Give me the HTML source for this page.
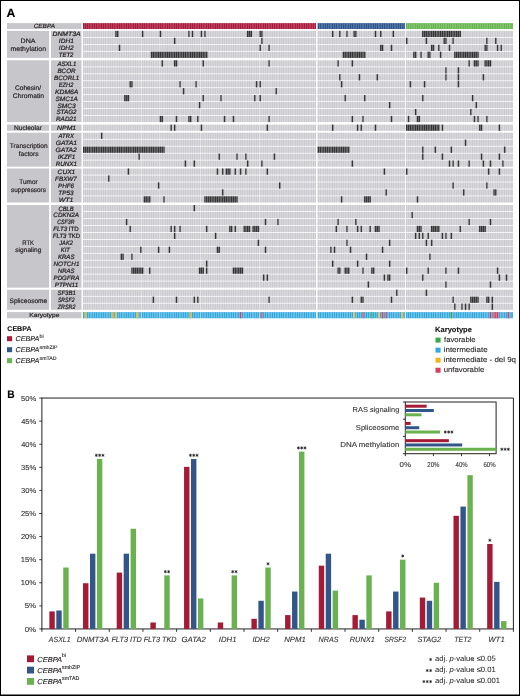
<!DOCTYPE html>
<html><head><meta charset="utf-8"><style>
html,body{margin:0;padding:0;background:#fff;}
svg{display:block;font-family:"Liberation Sans", sans-serif;will-change:transform;text-rendering:geometricPrecision;}
</style></head><body>
<svg width="520" height="696" viewBox="0 0 520 696">
<rect x="0.00" y="0.00" width="520.00" height="696.00" fill="#fff"/>
<text x="6.59" y="16.80" font-size="12" font-weight="bold" fill="#000" stroke="#000" stroke-width="0.1" textLength="8.84" lengthAdjust="spacingAndGlyphs">A</text>
<rect x="7.00" y="23.10" width="74.50" height="5.95" fill="#c7c6cb"/>
<text x="33.75" y="27.90" font-size="6.0" font-style="italic" fill="#231f20" stroke="#231f20" stroke-width="0.2" textLength="21.18" lengthAdjust="spacingAndGlyphs">CEBPA</text>
<rect x="83.00" y="23.10" width="233.00" height="5.95" fill="#ab1a3c"/>
<rect x="317.60" y="23.10" width="87.30" height="5.95" fill="#2f568f"/>
<rect x="405.90" y="23.10" width="107.00" height="5.95" fill="#68b450"/>
<rect x="7.00" y="30.85" width="42.10" height="27.05" fill="#c7c6cb"/>
<rect x="51.00" y="30.85" width="30.50" height="27.05" fill="#c7c6cb"/>
<text x="20.64" y="42.80" font-size="6.6" fill="#231f20" stroke="#231f20" stroke-width="0.18" textLength="14.87" lengthAdjust="spacingAndGlyphs">DNA</text>
<text x="10.55" y="50.60" font-size="6.6" fill="#231f20" stroke="#231f20" stroke-width="0.18" textLength="35.49" lengthAdjust="spacingAndGlyphs">methylation</text>
<rect x="83.00" y="30.85" width="233.00" height="6.20" fill="#cacacf"/>
<rect x="317.60" y="30.85" width="87.30" height="6.20" fill="#cacacf"/>
<rect x="405.90" y="30.85" width="107.00" height="6.20" fill="#cacacf"/>
<text x="52.50" y="36.35" font-size="6.3" font-style="italic" fill="#231f20" stroke="#231f20" stroke-width="0.22" textLength="28.06" lengthAdjust="spacingAndGlyphs">DNMT3A</text>
<rect x="83.00" y="37.80" width="233.00" height="6.20" fill="#cacacf"/>
<rect x="317.60" y="37.80" width="87.30" height="6.20" fill="#cacacf"/>
<rect x="405.90" y="37.80" width="107.00" height="6.20" fill="#cacacf"/>
<text x="58.84" y="43.30" font-size="6.3" font-style="italic" fill="#231f20" stroke="#231f20" stroke-width="0.22" textLength="15.05" lengthAdjust="spacingAndGlyphs">IDH1</text>
<rect x="83.00" y="44.75" width="233.00" height="6.20" fill="#cacacf"/>
<rect x="317.60" y="44.75" width="87.30" height="6.20" fill="#cacacf"/>
<rect x="405.90" y="44.75" width="107.00" height="6.20" fill="#cacacf"/>
<text x="58.84" y="50.25" font-size="6.3" font-style="italic" fill="#231f20" stroke="#231f20" stroke-width="0.22" textLength="14.78" lengthAdjust="spacingAndGlyphs">IDH2</text>
<rect x="83.00" y="51.70" width="233.00" height="6.20" fill="#cacacf"/>
<rect x="317.60" y="51.70" width="87.30" height="6.20" fill="#cacacf"/>
<rect x="405.90" y="51.70" width="107.00" height="6.20" fill="#cacacf"/>
<text x="58.76" y="57.20" font-size="6.3" font-style="italic" fill="#231f20" stroke="#231f20" stroke-width="0.22" textLength="14.63" lengthAdjust="spacingAndGlyphs">TET2</text>
<rect x="7.00" y="60.30" width="42.10" height="61.80" fill="#c7c6cb"/>
<rect x="51.00" y="60.30" width="30.50" height="61.80" fill="#c7c6cb"/>
<text x="14.97" y="89.70" font-size="6.6" fill="#231f20" stroke="#231f20" stroke-width="0.18">Cohesin/</text>
<text x="12.86" y="97.80" font-size="6.6" fill="#231f20" stroke="#231f20" stroke-width="0.18" textLength="31.20" lengthAdjust="spacingAndGlyphs">Chromatin</text>
<rect x="83.00" y="60.30" width="233.00" height="6.20" fill="#cacacf"/>
<rect x="317.60" y="60.30" width="87.30" height="6.20" fill="#cacacf"/>
<rect x="405.90" y="60.30" width="107.00" height="6.20" fill="#cacacf"/>
<text x="57.40" y="65.80" font-size="6.3" font-style="italic" fill="#231f20" stroke="#231f20" stroke-width="0.22" textLength="18.93" lengthAdjust="spacingAndGlyphs">ASXL1</text>
<rect x="83.00" y="67.25" width="233.00" height="6.20" fill="#cacacf"/>
<rect x="317.60" y="67.25" width="87.30" height="6.20" fill="#cacacf"/>
<rect x="405.90" y="67.25" width="107.00" height="6.20" fill="#cacacf"/>
<text x="57.41" y="72.75" font-size="6.3" font-style="italic" fill="#231f20" stroke="#231f20" stroke-width="0.22">BCOR</text>
<rect x="83.00" y="74.20" width="233.00" height="6.20" fill="#cacacf"/>
<rect x="317.60" y="74.20" width="87.30" height="6.20" fill="#cacacf"/>
<rect x="405.90" y="74.20" width="107.00" height="6.20" fill="#cacacf"/>
<text x="54.11" y="79.70" font-size="6.3" font-style="italic" fill="#231f20" stroke="#231f20" stroke-width="0.22">BCORL1</text>
<rect x="83.00" y="81.15" width="233.00" height="6.20" fill="#cacacf"/>
<rect x="317.60" y="81.15" width="87.30" height="6.20" fill="#cacacf"/>
<rect x="405.90" y="81.15" width="107.00" height="6.20" fill="#cacacf"/>
<text x="58.83" y="86.65" font-size="6.3" font-style="italic" fill="#231f20" stroke="#231f20" stroke-width="0.22" textLength="14.56" lengthAdjust="spacingAndGlyphs">EZH2</text>
<rect x="83.00" y="88.10" width="233.00" height="6.20" fill="#cacacf"/>
<rect x="317.60" y="88.10" width="87.30" height="6.20" fill="#cacacf"/>
<rect x="405.90" y="88.10" width="107.00" height="6.20" fill="#cacacf"/>
<text x="55.00" y="93.60" font-size="6.3" font-style="italic" fill="#231f20" stroke="#231f20" stroke-width="0.22" textLength="23.35" lengthAdjust="spacingAndGlyphs">KDM6A</text>
<rect x="83.00" y="95.05" width="233.00" height="6.20" fill="#cacacf"/>
<rect x="317.60" y="95.05" width="87.30" height="6.20" fill="#cacacf"/>
<rect x="405.90" y="95.05" width="107.00" height="6.20" fill="#cacacf"/>
<text x="55.51" y="100.55" font-size="6.3" font-style="italic" fill="#231f20" stroke="#231f20" stroke-width="0.22" textLength="22.32" lengthAdjust="spacingAndGlyphs">SMC1A</text>
<rect x="83.00" y="102.00" width="233.00" height="6.20" fill="#cacacf"/>
<rect x="317.60" y="102.00" width="87.30" height="6.20" fill="#cacacf"/>
<rect x="405.90" y="102.00" width="107.00" height="6.20" fill="#cacacf"/>
<text x="57.40" y="107.50" font-size="6.3" font-style="italic" fill="#231f20" stroke="#231f20" stroke-width="0.22" textLength="18.15" lengthAdjust="spacingAndGlyphs">SMC3</text>
<rect x="83.00" y="108.95" width="233.00" height="6.20" fill="#cacacf"/>
<rect x="317.60" y="108.95" width="87.30" height="6.20" fill="#cacacf"/>
<rect x="405.90" y="108.95" width="107.00" height="6.20" fill="#cacacf"/>
<text x="56.41" y="114.45" font-size="6.3" font-style="italic" fill="#231f20" stroke="#231f20" stroke-width="0.22">STAG2</text>
<rect x="83.00" y="115.90" width="233.00" height="6.20" fill="#cacacf"/>
<rect x="317.60" y="115.90" width="87.30" height="6.20" fill="#cacacf"/>
<rect x="405.90" y="115.90" width="107.00" height="6.20" fill="#cacacf"/>
<text x="56.01" y="121.40" font-size="6.3" font-style="italic" fill="#231f20" stroke="#231f20" stroke-width="0.22" textLength="20.63" lengthAdjust="spacingAndGlyphs">RAD21</text>
<rect x="7.00" y="124.60" width="42.10" height="6.20" fill="#c7c6cb"/>
<rect x="51.00" y="124.60" width="30.50" height="6.20" fill="#c7c6cb"/>
<text x="13.97" y="129.50" font-size="6.6" fill="#231f20" stroke="#231f20" stroke-width="0.18">Nucleolar</text>
<rect x="83.00" y="124.60" width="233.00" height="6.20" fill="#cacacf"/>
<rect x="317.60" y="124.60" width="87.30" height="6.20" fill="#cacacf"/>
<rect x="405.90" y="124.60" width="107.00" height="6.20" fill="#cacacf"/>
<text x="57.09" y="130.10" font-size="6.3" font-style="italic" fill="#231f20" stroke="#231f20" stroke-width="0.22" textLength="19.11" lengthAdjust="spacingAndGlyphs">NPM1</text>
<rect x="7.00" y="132.70" width="42.10" height="34.00" fill="#c7c6cb"/>
<rect x="51.00" y="132.70" width="30.50" height="34.00" fill="#c7c6cb"/>
<text x="9.77" y="148.40" font-size="6.6" fill="#231f20" stroke="#231f20" stroke-width="0.18">Transcription</text>
<text x="18.70" y="155.90" font-size="6.6" fill="#231f20" stroke="#231f20" stroke-width="0.18">factors</text>
<rect x="83.00" y="132.70" width="233.00" height="6.20" fill="#cacacf"/>
<rect x="317.60" y="132.70" width="87.30" height="6.20" fill="#cacacf"/>
<rect x="405.90" y="132.70" width="107.00" height="6.20" fill="#cacacf"/>
<text x="58.50" y="138.20" font-size="6.3" font-style="italic" fill="#231f20" stroke="#231f20" stroke-width="0.22" textLength="15.44" lengthAdjust="spacingAndGlyphs">ATRX</text>
<rect x="83.00" y="139.65" width="233.00" height="6.20" fill="#cacacf"/>
<rect x="317.60" y="139.65" width="87.30" height="6.20" fill="#cacacf"/>
<rect x="405.90" y="139.65" width="107.00" height="6.20" fill="#cacacf"/>
<text x="55.76" y="145.15" font-size="6.3" font-style="italic" fill="#231f20" stroke="#231f20" stroke-width="0.22" textLength="21.32" lengthAdjust="spacingAndGlyphs">GATA1</text>
<rect x="83.00" y="146.60" width="233.00" height="6.20" fill="#cacacf"/>
<rect x="317.60" y="146.60" width="87.30" height="6.20" fill="#cacacf"/>
<rect x="405.90" y="146.60" width="107.00" height="6.20" fill="#cacacf"/>
<text x="55.56" y="152.10" font-size="6.3" font-style="italic" fill="#231f20" stroke="#231f20" stroke-width="0.22" textLength="21.35" lengthAdjust="spacingAndGlyphs">GATA2</text>
<rect x="83.00" y="153.55" width="233.00" height="6.20" fill="#cacacf"/>
<rect x="317.60" y="153.55" width="87.30" height="6.20" fill="#cacacf"/>
<rect x="405.90" y="153.55" width="107.00" height="6.20" fill="#cacacf"/>
<text x="57.74" y="159.05" font-size="6.3" font-style="italic" fill="#231f20" stroke="#231f20" stroke-width="0.22" textLength="17.73" lengthAdjust="spacingAndGlyphs">IKZF1</text>
<rect x="83.00" y="160.50" width="233.00" height="6.20" fill="#cacacf"/>
<rect x="317.60" y="160.50" width="87.30" height="6.20" fill="#cacacf"/>
<rect x="405.90" y="160.50" width="107.00" height="6.20" fill="#cacacf"/>
<text x="55.71" y="166.00" font-size="6.3" font-style="italic" fill="#231f20" stroke="#231f20" stroke-width="0.22">RUNX1</text>
<rect x="7.00" y="168.50" width="42.10" height="34.00" fill="#c7c6cb"/>
<rect x="51.00" y="168.50" width="30.50" height="34.00" fill="#c7c6cb"/>
<text x="19.27" y="184.20" font-size="6.6" fill="#231f20" stroke="#231f20" stroke-width="0.18" textLength="18.34" lengthAdjust="spacingAndGlyphs">Tumor</text>
<text x="11.11" y="192.00" font-size="6.6" fill="#231f20" stroke="#231f20" stroke-width="0.18" textLength="34.83" lengthAdjust="spacingAndGlyphs">suppressors</text>
<rect x="83.00" y="168.50" width="233.00" height="6.20" fill="#cacacf"/>
<rect x="317.60" y="168.50" width="87.30" height="6.20" fill="#cacacf"/>
<rect x="405.90" y="168.50" width="107.00" height="6.20" fill="#cacacf"/>
<text x="57.64" y="174.00" font-size="6.3" font-style="italic" fill="#231f20" stroke="#231f20" stroke-width="0.22" textLength="17.64" lengthAdjust="spacingAndGlyphs">CUX1</text>
<rect x="83.00" y="175.45" width="233.00" height="6.20" fill="#cacacf"/>
<rect x="317.60" y="175.45" width="87.30" height="6.20" fill="#cacacf"/>
<rect x="405.90" y="175.45" width="107.00" height="6.20" fill="#cacacf"/>
<text x="55.11" y="180.95" font-size="6.3" font-style="italic" fill="#231f20" stroke="#231f20" stroke-width="0.22">FBXW7</text>
<rect x="83.00" y="182.40" width="233.00" height="6.20" fill="#cacacf"/>
<rect x="317.60" y="182.40" width="87.30" height="6.20" fill="#cacacf"/>
<rect x="405.90" y="182.40" width="107.00" height="6.20" fill="#cacacf"/>
<text x="58.01" y="187.90" font-size="6.3" font-style="italic" fill="#231f20" stroke="#231f20" stroke-width="0.22">PHF6</text>
<rect x="83.00" y="189.35" width="233.00" height="6.20" fill="#cacacf"/>
<rect x="317.60" y="189.35" width="87.30" height="6.20" fill="#cacacf"/>
<rect x="405.90" y="189.35" width="107.00" height="6.20" fill="#cacacf"/>
<text x="58.22" y="194.85" font-size="6.3" font-style="italic" fill="#231f20" stroke="#231f20" stroke-width="0.22" textLength="15.31" lengthAdjust="spacingAndGlyphs">TP53</text>
<rect x="83.00" y="196.30" width="233.00" height="6.20" fill="#cacacf"/>
<rect x="317.60" y="196.30" width="87.30" height="6.20" fill="#cacacf"/>
<rect x="405.90" y="196.30" width="107.00" height="6.20" fill="#cacacf"/>
<text x="58.81" y="201.80" font-size="6.3" font-style="italic" fill="#231f20" stroke="#231f20" stroke-width="0.22" textLength="14.69" lengthAdjust="spacingAndGlyphs">WT1</text>
<rect x="7.00" y="205.00" width="42.10" height="82.65" fill="#c7c6cb"/>
<rect x="51.00" y="205.00" width="30.50" height="82.65" fill="#c7c6cb"/>
<text x="22.33" y="245.00" font-size="6.6" fill="#231f20" stroke="#231f20" stroke-width="0.18" textLength="11.75" lengthAdjust="spacingAndGlyphs">RTK</text>
<text x="15.30" y="252.30" font-size="6.6" fill="#231f20" stroke="#231f20" stroke-width="0.18">signaling</text>
<rect x="83.00" y="205.00" width="233.00" height="6.20" fill="#cacacf"/>
<rect x="317.60" y="205.00" width="87.30" height="6.20" fill="#cacacf"/>
<rect x="405.90" y="205.00" width="107.00" height="6.20" fill="#cacacf"/>
<text x="58.48" y="210.50" font-size="6.3" font-style="italic" fill="#231f20" stroke="#231f20" stroke-width="0.22" textLength="15.31" lengthAdjust="spacingAndGlyphs">CBLB</text>
<rect x="83.00" y="211.95" width="233.00" height="6.20" fill="#cacacf"/>
<rect x="317.60" y="211.95" width="87.30" height="6.20" fill="#cacacf"/>
<rect x="405.90" y="211.95" width="107.00" height="6.20" fill="#cacacf"/>
<text x="53.35" y="217.45" font-size="6.3" font-style="italic" fill="#231f20" stroke="#231f20" stroke-width="0.22">CDKN2A</text>
<rect x="83.00" y="218.90" width="233.00" height="6.20" fill="#cacacf"/>
<rect x="317.60" y="218.90" width="87.30" height="6.20" fill="#cacacf"/>
<rect x="405.90" y="218.90" width="107.00" height="6.20" fill="#cacacf"/>
<text x="57.31" y="224.40" font-size="6.3" font-style="italic" fill="#231f20" stroke="#231f20" stroke-width="0.22" textLength="17.27" lengthAdjust="spacingAndGlyphs">CSF3R</text>
<rect x="83.00" y="225.85" width="233.00" height="6.20" fill="#cacacf"/>
<rect x="317.60" y="225.85" width="87.30" height="6.20" fill="#cacacf"/>
<rect x="405.90" y="225.85" width="107.00" height="6.20" fill="#cacacf"/>
<text x="53.21" y="231.35" font-size="6.3" font-style="italic" fill="#231f20" stroke="#231f20" stroke-width="0.22" textLength="25.59" lengthAdjust="spacingAndGlyphs">FLT3 <tspan font-style="normal">ITD</tspan></text>
<rect x="83.00" y="232.80" width="233.00" height="6.20" fill="#cacacf"/>
<rect x="317.60" y="232.80" width="87.30" height="6.20" fill="#cacacf"/>
<rect x="405.90" y="232.80" width="107.00" height="6.20" fill="#cacacf"/>
<text x="52.82" y="238.30" font-size="6.3" font-style="italic" fill="#231f20" stroke="#231f20" stroke-width="0.22" textLength="27.38" lengthAdjust="spacingAndGlyphs">FLT3 <tspan font-style="normal">TKD</tspan></text>
<rect x="83.00" y="239.75" width="233.00" height="6.20" fill="#cacacf"/>
<rect x="317.60" y="239.75" width="87.30" height="6.20" fill="#cacacf"/>
<rect x="405.90" y="239.75" width="107.00" height="6.20" fill="#cacacf"/>
<text x="59.30" y="245.25" font-size="6.3" font-style="italic" fill="#231f20" stroke="#231f20" stroke-width="0.22" textLength="13.49" lengthAdjust="spacingAndGlyphs">JAK2</text>
<rect x="83.00" y="246.70" width="233.00" height="6.20" fill="#cacacf"/>
<rect x="317.60" y="246.70" width="87.30" height="6.20" fill="#cacacf"/>
<rect x="405.90" y="246.70" width="107.00" height="6.20" fill="#cacacf"/>
<text x="60.72" y="252.20" font-size="6.3" font-style="italic" fill="#231f20" stroke="#231f20" stroke-width="0.22" textLength="9.13" lengthAdjust="spacingAndGlyphs">KIT</text>
<rect x="83.00" y="253.65" width="233.00" height="6.20" fill="#cacacf"/>
<rect x="317.60" y="253.65" width="87.30" height="6.20" fill="#cacacf"/>
<rect x="405.90" y="253.65" width="107.00" height="6.20" fill="#cacacf"/>
<text x="57.92" y="259.15" font-size="6.3" font-style="italic" fill="#231f20" stroke="#231f20" stroke-width="0.22" textLength="16.56" lengthAdjust="spacingAndGlyphs">KRAS</text>
<rect x="83.00" y="260.60" width="233.00" height="6.20" fill="#cacacf"/>
<rect x="317.60" y="260.60" width="87.30" height="6.20" fill="#cacacf"/>
<rect x="405.90" y="260.60" width="107.00" height="6.20" fill="#cacacf"/>
<text x="53.51" y="266.10" font-size="6.3" font-style="italic" fill="#231f20" stroke="#231f20" stroke-width="0.22">NOTCH1</text>
<rect x="83.00" y="267.55" width="233.00" height="6.20" fill="#cacacf"/>
<rect x="317.60" y="267.55" width="87.30" height="6.20" fill="#cacacf"/>
<rect x="405.90" y="267.55" width="107.00" height="6.20" fill="#cacacf"/>
<text x="57.92" y="273.05" font-size="6.3" font-style="italic" fill="#231f20" stroke="#231f20" stroke-width="0.22" textLength="16.56" lengthAdjust="spacingAndGlyphs">NRAS</text>
<rect x="83.00" y="274.50" width="233.00" height="6.20" fill="#cacacf"/>
<rect x="317.60" y="274.50" width="87.30" height="6.20" fill="#cacacf"/>
<rect x="405.90" y="274.50" width="107.00" height="6.20" fill="#cacacf"/>
<text x="53.51" y="280.00" font-size="6.3" font-style="italic" fill="#231f20" stroke="#231f20" stroke-width="0.22" textLength="25.81" lengthAdjust="spacingAndGlyphs">PDGFRA</text>
<rect x="83.00" y="281.45" width="233.00" height="6.20" fill="#cacacf"/>
<rect x="317.60" y="281.45" width="87.30" height="6.20" fill="#cacacf"/>
<rect x="405.90" y="281.45" width="107.00" height="6.20" fill="#cacacf"/>
<text x="54.81" y="286.95" font-size="6.3" font-style="italic" fill="#231f20" stroke="#231f20" stroke-width="0.22">PTPN11</text>
<rect x="7.00" y="289.70" width="42.10" height="20.10" fill="#c7c6cb"/>
<rect x="51.00" y="289.70" width="30.50" height="20.10" fill="#c7c6cb"/>
<text x="9.50" y="302.70" font-size="6.6" fill="#231f20" stroke="#231f20" stroke-width="0.18">Spliceosome</text>
<rect x="83.00" y="289.70" width="233.00" height="6.20" fill="#cacacf"/>
<rect x="317.60" y="289.70" width="87.30" height="6.20" fill="#cacacf"/>
<rect x="405.90" y="289.70" width="107.00" height="6.20" fill="#cacacf"/>
<text x="57.42" y="295.20" font-size="6.3" font-style="italic" fill="#231f20" stroke="#231f20" stroke-width="0.22" textLength="18.41" lengthAdjust="spacingAndGlyphs">SF3B1</text>
<rect x="83.00" y="296.65" width="233.00" height="6.20" fill="#cacacf"/>
<rect x="317.60" y="296.65" width="87.30" height="6.20" fill="#cacacf"/>
<rect x="405.90" y="296.65" width="107.00" height="6.20" fill="#cacacf"/>
<text x="57.95" y="302.15" font-size="6.3" font-style="italic" fill="#231f20" stroke="#231f20" stroke-width="0.22" textLength="16.55" lengthAdjust="spacingAndGlyphs">SRSF2</text>
<rect x="83.00" y="303.60" width="233.00" height="6.20" fill="#cacacf"/>
<rect x="317.60" y="303.60" width="87.30" height="6.20" fill="#cacacf"/>
<rect x="405.90" y="303.60" width="107.00" height="6.20" fill="#cacacf"/>
<text x="57.71" y="309.10" font-size="6.3" font-style="italic" fill="#231f20" stroke="#231f20" stroke-width="0.22" textLength="17.69" lengthAdjust="spacingAndGlyphs">ZRSR2</text>
<rect x="7.00" y="312.10" width="74.50" height="6.20" fill="#c7c6cb"/>
<text x="29.26" y="316.90" font-size="5.9" fill="#231f20" stroke="#231f20" stroke-width="0.18" textLength="30.15" lengthAdjust="spacingAndGlyphs">Karyotype</text>
<rect x="83.00" y="312.10" width="233.00" height="6.20" fill="#33a9df"/>
<rect x="317.60" y="312.10" width="87.30" height="6.20" fill="#33a9df"/>
<rect x="405.90" y="312.10" width="107.00" height="6.20" fill="#33a9df"/>
<rect x="84.78" y="312.10" width="1.78" height="6.20" fill="#f6b21c"/>
<rect x="111.49" y="312.10" width="1.78" height="6.20" fill="#f6b21c"/>
<rect x="115.05" y="312.10" width="1.78" height="6.20" fill="#f6b21c"/>
<rect x="136.41" y="312.10" width="1.78" height="6.20" fill="#f6b21c"/>
<rect x="189.83" y="312.10" width="1.78" height="6.20" fill="#f6b21c"/>
<rect x="353.21" y="312.10" width="1.78" height="6.20" fill="#f6b21c"/>
<rect x="378.14" y="312.10" width="1.78" height="6.20" fill="#f6b21c"/>
<rect x="401.28" y="312.10" width="1.78" height="6.20" fill="#f6b21c"/>
<rect x="239.68" y="312.10" width="1.78" height="6.20" fill="#d8415d"/>
<rect x="261.05" y="312.10" width="1.78" height="6.20" fill="#d8415d"/>
<rect x="362.11" y="312.10" width="1.78" height="6.20" fill="#d8415d"/>
<rect x="381.70" y="312.10" width="1.78" height="6.20" fill="#d8415d"/>
<rect x="385.26" y="312.10" width="1.78" height="6.20" fill="#d8415d"/>
<rect x="489.58" y="312.10" width="1.78" height="6.20" fill="#d8415d"/>
<rect x="493.14" y="312.10" width="5.34" height="6.20" fill="#d8415d"/>
<rect x="507.39" y="312.10" width="1.78" height="6.20" fill="#d8415d"/>
<rect x="371.02" y="312.10" width="1.78" height="6.20" fill="#3aa946"/>
<rect x="450.41" y="312.10" width="1.78" height="6.20" fill="#3aa946"/>
<rect x="141.10" y="30.00" width="0.60" height="289.00" fill="#ffffff" fill-opacity="0.55"/>
<rect x="159.60" y="30.00" width="0.60" height="289.00" fill="#ffffff" fill-opacity="0.55"/>
<rect x="200.10" y="30.00" width="0.60" height="289.00" fill="#ffffff" fill-opacity="0.55"/>
<rect x="259.00" y="30.00" width="0.60" height="289.00" fill="#ffffff" fill-opacity="0.55"/>
<rect x="115.05" y="30.85" width="3.56" height="6.20" fill="#343436"/>
<rect x="141.76" y="30.85" width="1.78" height="6.20" fill="#343436"/>
<rect x="159.56" y="30.85" width="1.78" height="6.20" fill="#343436"/>
<rect x="188.05" y="30.85" width="1.78" height="6.20" fill="#343436"/>
<rect x="191.61" y="30.85" width="1.78" height="6.20" fill="#343436"/>
<rect x="200.51" y="30.85" width="1.78" height="6.20" fill="#343436"/>
<rect x="204.07" y="30.85" width="1.78" height="6.20" fill="#343436"/>
<rect x="246.81" y="30.85" width="5.34" height="6.20" fill="#343436"/>
<rect x="259.27" y="30.85" width="3.56" height="6.20" fill="#343436"/>
<rect x="331.84" y="30.85" width="1.78" height="6.20" fill="#343436"/>
<rect x="338.97" y="30.85" width="1.78" height="6.20" fill="#343436"/>
<rect x="346.09" y="30.85" width="1.78" height="6.20" fill="#343436"/>
<rect x="353.21" y="30.85" width="3.56" height="6.20" fill="#343436"/>
<rect x="374.58" y="30.85" width="1.78" height="6.20" fill="#343436"/>
<rect x="379.92" y="30.85" width="1.78" height="6.20" fill="#343436"/>
<rect x="392.38" y="30.85" width="1.78" height="6.20" fill="#343436"/>
<rect x="421.92" y="30.85" width="39.17" height="6.20" fill="#343436"/>
<rect x="173.81" y="37.80" width="1.78" height="6.20" fill="#343436"/>
<rect x="261.05" y="37.80" width="1.78" height="6.20" fill="#343436"/>
<rect x="405.90" y="37.80" width="1.78" height="6.20" fill="#343436"/>
<rect x="425.49" y="37.80" width="1.78" height="6.20" fill="#343436"/>
<rect x="443.29" y="37.80" width="3.56" height="6.20" fill="#343436"/>
<rect x="452.19" y="37.80" width="1.78" height="6.20" fill="#343436"/>
<rect x="486.02" y="37.80" width="1.78" height="6.20" fill="#343436"/>
<rect x="494.92" y="37.80" width="1.78" height="6.20" fill="#343436"/>
<rect x="118.61" y="44.75" width="1.78" height="6.20" fill="#343436"/>
<rect x="259.27" y="44.75" width="1.78" height="6.20" fill="#343436"/>
<rect x="268.17" y="44.75" width="1.78" height="6.20" fill="#343436"/>
<rect x="379.92" y="44.75" width="3.56" height="6.20" fill="#343436"/>
<rect x="390.60" y="44.75" width="1.78" height="6.20" fill="#343436"/>
<rect x="430.83" y="44.75" width="3.56" height="6.20" fill="#343436"/>
<rect x="437.95" y="44.75" width="1.78" height="6.20" fill="#343436"/>
<rect x="448.63" y="44.75" width="1.78" height="6.20" fill="#343436"/>
<rect x="484.24" y="44.75" width="3.56" height="6.20" fill="#343436"/>
<rect x="496.71" y="44.75" width="1.78" height="6.20" fill="#343436"/>
<rect x="500.27" y="44.75" width="1.78" height="6.20" fill="#343436"/>
<rect x="150.66" y="51.70" width="56.98" height="6.20" fill="#343436"/>
<rect x="342.53" y="51.70" width="23.15" height="6.20" fill="#343436"/>
<rect x="413.02" y="51.70" width="3.56" height="6.20" fill="#343436"/>
<rect x="420.14" y="51.70" width="1.78" height="6.20" fill="#343436"/>
<rect x="427.27" y="51.70" width="3.56" height="6.20" fill="#343436"/>
<rect x="439.73" y="51.70" width="1.78" height="6.20" fill="#343436"/>
<rect x="453.97" y="51.70" width="24.93" height="6.20" fill="#343436"/>
<rect x="161.34" y="60.30" width="1.78" height="6.20" fill="#343436"/>
<rect x="173.81" y="60.30" width="3.56" height="6.20" fill="#343436"/>
<rect x="202.29" y="60.30" width="1.78" height="6.20" fill="#343436"/>
<rect x="268.17" y="60.30" width="1.78" height="6.20" fill="#343436"/>
<rect x="337.19" y="60.30" width="1.78" height="6.20" fill="#343436"/>
<rect x="351.43" y="60.30" width="1.78" height="6.20" fill="#343436"/>
<rect x="468.22" y="60.30" width="1.78" height="6.20" fill="#343436"/>
<rect x="473.56" y="60.30" width="5.34" height="6.20" fill="#343436"/>
<rect x="484.24" y="60.30" width="7.12" height="6.20" fill="#343436"/>
<rect x="445.07" y="67.25" width="1.78" height="6.20" fill="#343436"/>
<rect x="457.53" y="67.25" width="1.78" height="6.20" fill="#343436"/>
<rect x="338.97" y="74.20" width="1.78" height="6.20" fill="#343436"/>
<rect x="358.55" y="74.20" width="1.78" height="6.20" fill="#343436"/>
<rect x="376.36" y="74.20" width="1.78" height="6.20" fill="#343436"/>
<rect x="445.07" y="74.20" width="1.78" height="6.20" fill="#343436"/>
<rect x="457.53" y="74.20" width="1.78" height="6.20" fill="#343436"/>
<rect x="482.46" y="74.20" width="1.78" height="6.20" fill="#343436"/>
<rect x="129.29" y="81.15" width="3.56" height="6.20" fill="#343436"/>
<rect x="179.15" y="81.15" width="1.78" height="6.20" fill="#343436"/>
<rect x="195.17" y="81.15" width="1.78" height="6.20" fill="#343436"/>
<rect x="255.71" y="81.15" width="1.78" height="6.20" fill="#343436"/>
<rect x="259.27" y="81.15" width="1.78" height="6.20" fill="#343436"/>
<rect x="340.75" y="81.15" width="1.78" height="6.20" fill="#343436"/>
<rect x="409.46" y="81.15" width="1.78" height="6.20" fill="#343436"/>
<rect x="423.70" y="81.15" width="1.78" height="6.20" fill="#343436"/>
<rect x="457.53" y="81.15" width="1.78" height="6.20" fill="#343436"/>
<rect x="182.71" y="88.10" width="1.78" height="6.20" fill="#343436"/>
<rect x="275.29" y="88.10" width="1.78" height="6.20" fill="#343436"/>
<rect x="123.95" y="95.05" width="5.34" height="6.20" fill="#343436"/>
<rect x="202.29" y="95.05" width="1.78" height="6.20" fill="#343436"/>
<rect x="220.10" y="95.05" width="1.78" height="6.20" fill="#343436"/>
<rect x="253.93" y="95.05" width="1.78" height="6.20" fill="#343436"/>
<rect x="259.27" y="95.05" width="1.78" height="6.20" fill="#343436"/>
<rect x="344.31" y="95.05" width="1.78" height="6.20" fill="#343436"/>
<rect x="363.89" y="95.05" width="1.78" height="6.20" fill="#343436"/>
<rect x="421.92" y="95.05" width="1.78" height="6.20" fill="#343436"/>
<rect x="471.78" y="95.05" width="1.78" height="6.20" fill="#343436"/>
<rect x="198.73" y="102.00" width="1.78" height="6.20" fill="#343436"/>
<rect x="388.82" y="102.00" width="1.78" height="6.20" fill="#343436"/>
<rect x="475.34" y="102.00" width="1.78" height="6.20" fill="#343436"/>
<rect x="414.80" y="108.95" width="1.78" height="6.20" fill="#343436"/>
<rect x="470.00" y="108.95" width="1.78" height="6.20" fill="#343436"/>
<rect x="159.56" y="115.90" width="3.56" height="6.20" fill="#343436"/>
<rect x="175.59" y="115.90" width="1.78" height="6.20" fill="#343436"/>
<rect x="188.05" y="115.90" width="3.56" height="6.20" fill="#343436"/>
<rect x="196.95" y="115.90" width="1.78" height="6.20" fill="#343436"/>
<rect x="223.66" y="115.90" width="1.78" height="6.20" fill="#343436"/>
<rect x="232.56" y="115.90" width="1.78" height="6.20" fill="#343436"/>
<rect x="268.17" y="115.90" width="1.78" height="6.20" fill="#343436"/>
<rect x="351.43" y="115.90" width="1.78" height="6.20" fill="#343436"/>
<rect x="362.11" y="115.90" width="1.78" height="6.20" fill="#343436"/>
<rect x="390.60" y="115.90" width="1.78" height="6.20" fill="#343436"/>
<rect x="407.68" y="115.90" width="1.78" height="6.20" fill="#343436"/>
<rect x="416.58" y="115.90" width="3.56" height="6.20" fill="#343436"/>
<rect x="473.56" y="115.90" width="1.78" height="6.20" fill="#343436"/>
<rect x="477.12" y="115.90" width="1.78" height="6.20" fill="#343436"/>
<rect x="486.02" y="115.90" width="1.78" height="6.20" fill="#343436"/>
<rect x="170.24" y="124.60" width="1.78" height="6.20" fill="#343436"/>
<rect x="173.81" y="124.60" width="1.78" height="6.20" fill="#343436"/>
<rect x="200.51" y="124.60" width="1.78" height="6.20" fill="#343436"/>
<rect x="266.39" y="124.60" width="1.78" height="6.20" fill="#343436"/>
<rect x="331.84" y="124.60" width="1.78" height="6.20" fill="#343436"/>
<rect x="356.77" y="124.60" width="1.78" height="6.20" fill="#343436"/>
<rect x="360.33" y="124.60" width="1.78" height="6.20" fill="#343436"/>
<rect x="374.58" y="124.60" width="1.78" height="6.20" fill="#343436"/>
<rect x="405.90" y="124.60" width="33.83" height="6.20" fill="#343436"/>
<rect x="441.51" y="124.60" width="1.78" height="6.20" fill="#343436"/>
<rect x="478.90" y="124.60" width="3.56" height="6.20" fill="#343436"/>
<rect x="498.49" y="124.60" width="1.78" height="6.20" fill="#343436"/>
<rect x="100.81" y="132.70" width="1.78" height="6.20" fill="#343436"/>
<rect x="464.66" y="139.65" width="1.78" height="6.20" fill="#343436"/>
<rect x="83.00" y="146.60" width="81.90" height="6.20" fill="#343436"/>
<rect x="317.60" y="146.60" width="32.05" height="6.20" fill="#343436"/>
<rect x="421.92" y="146.60" width="1.78" height="6.20" fill="#343436"/>
<rect x="434.39" y="146.60" width="1.78" height="6.20" fill="#343436"/>
<rect x="450.41" y="146.60" width="1.78" height="6.20" fill="#343436"/>
<rect x="503.83" y="146.60" width="1.78" height="6.20" fill="#343436"/>
<rect x="138.20" y="153.55" width="1.78" height="6.20" fill="#343436"/>
<rect x="218.32" y="153.55" width="1.78" height="6.20" fill="#343436"/>
<rect x="236.12" y="153.55" width="1.78" height="6.20" fill="#343436"/>
<rect x="245.03" y="153.55" width="1.78" height="6.20" fill="#343436"/>
<rect x="273.51" y="153.55" width="1.78" height="6.20" fill="#343436"/>
<rect x="421.92" y="153.55" width="1.78" height="6.20" fill="#343436"/>
<rect x="441.51" y="153.55" width="1.78" height="6.20" fill="#343436"/>
<rect x="480.68" y="153.55" width="1.78" height="6.20" fill="#343436"/>
<rect x="498.49" y="153.55" width="1.78" height="6.20" fill="#343436"/>
<rect x="184.49" y="160.50" width="1.78" height="6.20" fill="#343436"/>
<rect x="193.39" y="160.50" width="1.78" height="6.20" fill="#343436"/>
<rect x="246.81" y="160.50" width="1.78" height="6.20" fill="#343436"/>
<rect x="261.05" y="160.50" width="1.78" height="6.20" fill="#343436"/>
<rect x="351.43" y="160.50" width="1.78" height="6.20" fill="#343436"/>
<rect x="448.63" y="160.50" width="1.78" height="6.20" fill="#343436"/>
<rect x="452.19" y="160.50" width="1.78" height="6.20" fill="#343436"/>
<rect x="457.53" y="160.50" width="1.78" height="6.20" fill="#343436"/>
<rect x="468.22" y="160.50" width="1.78" height="6.20" fill="#343436"/>
<rect x="482.46" y="160.50" width="1.78" height="6.20" fill="#343436"/>
<rect x="489.58" y="160.50" width="1.78" height="6.20" fill="#343436"/>
<rect x="502.05" y="160.50" width="1.78" height="6.20" fill="#343436"/>
<rect x="127.51" y="168.50" width="1.78" height="6.20" fill="#343436"/>
<rect x="216.54" y="168.50" width="1.78" height="6.20" fill="#343436"/>
<rect x="221.88" y="168.50" width="1.78" height="6.20" fill="#343436"/>
<rect x="225.44" y="168.50" width="5.34" height="6.20" fill="#343436"/>
<rect x="234.34" y="168.50" width="1.78" height="6.20" fill="#343436"/>
<rect x="239.68" y="168.50" width="1.78" height="6.20" fill="#343436"/>
<rect x="245.03" y="168.50" width="1.78" height="6.20" fill="#343436"/>
<rect x="266.39" y="168.50" width="1.78" height="6.20" fill="#343436"/>
<rect x="383.48" y="168.50" width="1.78" height="6.20" fill="#343436"/>
<rect x="405.90" y="168.50" width="1.78" height="6.20" fill="#343436"/>
<rect x="487.80" y="168.50" width="1.78" height="6.20" fill="#343436"/>
<rect x="498.49" y="168.50" width="1.78" height="6.20" fill="#343436"/>
<rect x="107.93" y="175.45" width="1.78" height="6.20" fill="#343436"/>
<rect x="157.78" y="182.40" width="1.78" height="6.20" fill="#343436"/>
<rect x="278.86" y="182.40" width="1.78" height="6.20" fill="#343436"/>
<rect x="452.19" y="182.40" width="1.78" height="6.20" fill="#343436"/>
<rect x="486.02" y="182.40" width="1.78" height="6.20" fill="#343436"/>
<rect x="221.88" y="189.35" width="1.78" height="6.20" fill="#343436"/>
<rect x="385.26" y="189.35" width="1.78" height="6.20" fill="#343436"/>
<rect x="462.88" y="189.35" width="1.78" height="6.20" fill="#343436"/>
<rect x="493.14" y="189.35" width="3.56" height="6.20" fill="#343436"/>
<rect x="143.54" y="196.30" width="7.12" height="6.20" fill="#343436"/>
<rect x="163.12" y="196.30" width="1.78" height="6.20" fill="#343436"/>
<rect x="204.07" y="196.30" width="33.83" height="6.20" fill="#343436"/>
<rect x="340.75" y="196.30" width="1.78" height="6.20" fill="#343436"/>
<rect x="363.89" y="196.30" width="7.12" height="6.20" fill="#343436"/>
<rect x="416.58" y="196.30" width="1.78" height="6.20" fill="#343436"/>
<rect x="193.39" y="205.00" width="1.78" height="6.20" fill="#343436"/>
<rect x="411.24" y="211.95" width="1.78" height="6.20" fill="#343436"/>
<rect x="125.73" y="218.90" width="1.78" height="6.20" fill="#343436"/>
<rect x="264.61" y="218.90" width="1.78" height="6.20" fill="#343436"/>
<rect x="277.07" y="218.90" width="1.78" height="6.20" fill="#343436"/>
<rect x="337.19" y="218.90" width="1.78" height="6.20" fill="#343436"/>
<rect x="354.99" y="218.90" width="1.78" height="6.20" fill="#343436"/>
<rect x="468.22" y="218.90" width="1.78" height="6.20" fill="#343436"/>
<rect x="489.58" y="218.90" width="1.78" height="6.20" fill="#343436"/>
<rect x="129.29" y="225.85" width="1.78" height="6.20" fill="#343436"/>
<rect x="170.24" y="225.85" width="1.78" height="6.20" fill="#343436"/>
<rect x="173.81" y="225.85" width="1.78" height="6.20" fill="#343436"/>
<rect x="179.15" y="225.85" width="1.78" height="6.20" fill="#343436"/>
<rect x="205.85" y="225.85" width="1.78" height="6.20" fill="#343436"/>
<rect x="229.00" y="225.85" width="3.56" height="6.20" fill="#343436"/>
<rect x="234.34" y="225.85" width="1.78" height="6.20" fill="#343436"/>
<rect x="243.25" y="225.85" width="7.12" height="6.20" fill="#343436"/>
<rect x="252.15" y="225.85" width="7.12" height="6.20" fill="#343436"/>
<rect x="335.41" y="225.85" width="1.78" height="6.20" fill="#343436"/>
<rect x="346.09" y="225.85" width="1.78" height="6.20" fill="#343436"/>
<rect x="356.77" y="225.85" width="1.78" height="6.20" fill="#343436"/>
<rect x="360.33" y="225.85" width="1.78" height="6.20" fill="#343436"/>
<rect x="369.23" y="225.85" width="1.78" height="6.20" fill="#343436"/>
<rect x="374.58" y="225.85" width="5.34" height="6.20" fill="#343436"/>
<rect x="416.58" y="225.85" width="5.34" height="6.20" fill="#343436"/>
<rect x="430.83" y="225.85" width="8.90" height="6.20" fill="#343436"/>
<rect x="459.31" y="225.85" width="1.78" height="6.20" fill="#343436"/>
<rect x="478.90" y="225.85" width="7.12" height="6.20" fill="#343436"/>
<rect x="173.81" y="232.80" width="1.78" height="6.20" fill="#343436"/>
<rect x="214.76" y="232.80" width="1.78" height="6.20" fill="#343436"/>
<rect x="414.80" y="232.80" width="1.78" height="6.20" fill="#343436"/>
<rect x="418.36" y="232.80" width="1.78" height="6.20" fill="#343436"/>
<rect x="421.92" y="232.80" width="1.78" height="6.20" fill="#343436"/>
<rect x="427.27" y="232.80" width="1.78" height="6.20" fill="#343436"/>
<rect x="441.51" y="232.80" width="1.78" height="6.20" fill="#343436"/>
<rect x="445.07" y="232.80" width="1.78" height="6.20" fill="#343436"/>
<rect x="450.41" y="232.80" width="1.78" height="6.20" fill="#343436"/>
<rect x="257.49" y="239.75" width="1.78" height="6.20" fill="#343436"/>
<rect x="346.09" y="239.75" width="1.78" height="6.20" fill="#343436"/>
<rect x="388.82" y="239.75" width="1.78" height="6.20" fill="#343436"/>
<rect x="425.49" y="239.75" width="1.78" height="6.20" fill="#343436"/>
<rect x="430.83" y="239.75" width="1.78" height="6.20" fill="#343436"/>
<rect x="139.98" y="246.70" width="1.78" height="6.20" fill="#343436"/>
<rect x="157.78" y="246.70" width="1.78" height="6.20" fill="#343436"/>
<rect x="168.46" y="246.70" width="1.78" height="6.20" fill="#343436"/>
<rect x="216.54" y="246.70" width="3.56" height="6.20" fill="#343436"/>
<rect x="264.61" y="246.70" width="1.78" height="6.20" fill="#343436"/>
<rect x="330.06" y="246.70" width="1.78" height="6.20" fill="#343436"/>
<rect x="333.62" y="246.70" width="1.78" height="6.20" fill="#343436"/>
<rect x="349.65" y="246.70" width="1.78" height="6.20" fill="#343436"/>
<rect x="381.70" y="246.70" width="1.78" height="6.20" fill="#343436"/>
<rect x="120.39" y="253.65" width="3.56" height="6.20" fill="#343436"/>
<rect x="131.07" y="253.65" width="1.78" height="6.20" fill="#343436"/>
<rect x="365.67" y="253.65" width="1.78" height="6.20" fill="#343436"/>
<rect x="429.05" y="253.65" width="1.78" height="6.20" fill="#343436"/>
<rect x="205.85" y="260.60" width="1.78" height="6.20" fill="#343436"/>
<rect x="331.84" y="260.60" width="1.78" height="6.20" fill="#343436"/>
<rect x="356.77" y="260.60" width="1.78" height="6.20" fill="#343436"/>
<rect x="388.82" y="260.60" width="1.78" height="6.20" fill="#343436"/>
<rect x="131.07" y="267.55" width="12.46" height="6.20" fill="#343436"/>
<rect x="148.88" y="267.55" width="1.78" height="6.20" fill="#343436"/>
<rect x="198.73" y="267.55" width="5.34" height="6.20" fill="#343436"/>
<rect x="205.85" y="267.55" width="1.78" height="6.20" fill="#343436"/>
<rect x="232.56" y="267.55" width="10.68" height="6.20" fill="#343436"/>
<rect x="337.19" y="267.55" width="3.56" height="6.20" fill="#343436"/>
<rect x="344.31" y="267.55" width="5.34" height="6.20" fill="#343436"/>
<rect x="362.11" y="267.55" width="1.78" height="6.20" fill="#343436"/>
<rect x="371.02" y="267.55" width="3.56" height="6.20" fill="#343436"/>
<rect x="405.90" y="267.55" width="1.78" height="6.20" fill="#343436"/>
<rect x="427.27" y="267.55" width="1.78" height="6.20" fill="#343436"/>
<rect x="445.07" y="267.55" width="1.78" height="6.20" fill="#343436"/>
<rect x="457.53" y="267.55" width="1.78" height="6.20" fill="#343436"/>
<rect x="496.71" y="267.55" width="1.78" height="6.20" fill="#343436"/>
<rect x="262.83" y="274.50" width="1.78" height="6.20" fill="#343436"/>
<rect x="266.39" y="274.50" width="1.78" height="6.20" fill="#343436"/>
<rect x="383.48" y="274.50" width="1.78" height="6.20" fill="#343436"/>
<rect x="387.04" y="274.50" width="3.56" height="6.20" fill="#343436"/>
<rect x="421.92" y="274.50" width="1.78" height="6.20" fill="#343436"/>
<rect x="498.49" y="274.50" width="1.78" height="6.20" fill="#343436"/>
<rect x="505.61" y="274.50" width="1.78" height="6.20" fill="#343436"/>
<rect x="367.45" y="281.45" width="1.78" height="6.20" fill="#343436"/>
<rect x="445.07" y="281.45" width="1.78" height="6.20" fill="#343436"/>
<rect x="489.58" y="281.45" width="1.78" height="6.20" fill="#343436"/>
<rect x="395.94" y="289.70" width="1.78" height="6.20" fill="#343436"/>
<rect x="425.49" y="289.70" width="1.78" height="6.20" fill="#343436"/>
<rect x="152.44" y="296.65" width="1.78" height="6.20" fill="#343436"/>
<rect x="175.59" y="296.65" width="1.78" height="6.20" fill="#343436"/>
<rect x="193.39" y="296.65" width="1.78" height="6.20" fill="#343436"/>
<rect x="196.95" y="296.65" width="1.78" height="6.20" fill="#343436"/>
<rect x="268.17" y="296.65" width="1.78" height="6.20" fill="#343436"/>
<rect x="351.43" y="296.65" width="1.78" height="6.20" fill="#343436"/>
<rect x="360.33" y="296.65" width="3.56" height="6.20" fill="#343436"/>
<rect x="390.60" y="296.65" width="1.78" height="6.20" fill="#343436"/>
<rect x="452.19" y="296.65" width="1.78" height="6.20" fill="#343436"/>
<rect x="470.00" y="296.65" width="8.90" height="6.20" fill="#343436"/>
<rect x="486.02" y="296.65" width="3.56" height="6.20" fill="#343436"/>
<rect x="491.36" y="296.65" width="1.78" height="6.20" fill="#343436"/>
<rect x="453.97" y="303.60" width="1.78" height="6.20" fill="#343436"/>
<rect x="461.10" y="303.60" width="1.78" height="6.20" fill="#343436"/>
<rect x="464.66" y="303.60" width="1.78" height="6.20" fill="#343436"/>
<rect x="468.22" y="303.60" width="1.78" height="6.20" fill="#343436"/>
<rect x="491.36" y="303.60" width="1.78" height="6.20" fill="#343436"/>
<rect x="84.62" y="23.00" width="0.32" height="6.20" fill="#ffffff" fill-opacity="0.55"/>
<rect x="84.62" y="30.00" width="0.32" height="289.00" fill="#ffffff" fill-opacity="0.85"/>
<rect x="86.40" y="23.00" width="0.32" height="6.20" fill="#ffffff" fill-opacity="0.55"/>
<rect x="86.40" y="30.00" width="0.32" height="289.00" fill="#ffffff" fill-opacity="0.85"/>
<rect x="88.18" y="23.00" width="0.32" height="6.20" fill="#ffffff" fill-opacity="0.55"/>
<rect x="88.18" y="30.00" width="0.32" height="289.00" fill="#ffffff" fill-opacity="0.85"/>
<rect x="89.96" y="23.00" width="0.32" height="6.20" fill="#ffffff" fill-opacity="0.55"/>
<rect x="89.96" y="30.00" width="0.32" height="289.00" fill="#ffffff" fill-opacity="0.85"/>
<rect x="91.74" y="23.00" width="0.32" height="6.20" fill="#ffffff" fill-opacity="0.55"/>
<rect x="91.74" y="30.00" width="0.32" height="289.00" fill="#ffffff" fill-opacity="0.85"/>
<rect x="93.52" y="23.00" width="0.32" height="6.20" fill="#ffffff" fill-opacity="0.55"/>
<rect x="93.52" y="30.00" width="0.32" height="289.00" fill="#ffffff" fill-opacity="0.85"/>
<rect x="95.30" y="23.00" width="0.32" height="6.20" fill="#ffffff" fill-opacity="0.55"/>
<rect x="95.30" y="30.00" width="0.32" height="289.00" fill="#ffffff" fill-opacity="0.85"/>
<rect x="97.08" y="23.00" width="0.32" height="6.20" fill="#ffffff" fill-opacity="0.55"/>
<rect x="97.08" y="30.00" width="0.32" height="289.00" fill="#ffffff" fill-opacity="0.85"/>
<rect x="98.86" y="23.00" width="0.32" height="6.20" fill="#ffffff" fill-opacity="0.55"/>
<rect x="98.86" y="30.00" width="0.32" height="289.00" fill="#ffffff" fill-opacity="0.85"/>
<rect x="100.65" y="23.00" width="0.32" height="6.20" fill="#ffffff" fill-opacity="0.55"/>
<rect x="100.65" y="30.00" width="0.32" height="289.00" fill="#ffffff" fill-opacity="0.85"/>
<rect x="102.43" y="23.00" width="0.32" height="6.20" fill="#ffffff" fill-opacity="0.55"/>
<rect x="102.43" y="30.00" width="0.32" height="289.00" fill="#ffffff" fill-opacity="0.85"/>
<rect x="104.21" y="23.00" width="0.32" height="6.20" fill="#ffffff" fill-opacity="0.55"/>
<rect x="104.21" y="30.00" width="0.32" height="289.00" fill="#ffffff" fill-opacity="0.85"/>
<rect x="105.99" y="23.00" width="0.32" height="6.20" fill="#ffffff" fill-opacity="0.55"/>
<rect x="105.99" y="30.00" width="0.32" height="289.00" fill="#ffffff" fill-opacity="0.85"/>
<rect x="107.77" y="23.00" width="0.32" height="6.20" fill="#ffffff" fill-opacity="0.55"/>
<rect x="107.77" y="30.00" width="0.32" height="289.00" fill="#ffffff" fill-opacity="0.85"/>
<rect x="109.55" y="23.00" width="0.32" height="6.20" fill="#ffffff" fill-opacity="0.55"/>
<rect x="109.55" y="30.00" width="0.32" height="289.00" fill="#ffffff" fill-opacity="0.85"/>
<rect x="111.33" y="23.00" width="0.32" height="6.20" fill="#ffffff" fill-opacity="0.55"/>
<rect x="111.33" y="30.00" width="0.32" height="289.00" fill="#ffffff" fill-opacity="0.85"/>
<rect x="113.11" y="23.00" width="0.32" height="6.20" fill="#ffffff" fill-opacity="0.55"/>
<rect x="113.11" y="30.00" width="0.32" height="289.00" fill="#ffffff" fill-opacity="0.85"/>
<rect x="114.89" y="23.00" width="0.32" height="6.20" fill="#ffffff" fill-opacity="0.55"/>
<rect x="114.89" y="30.00" width="0.32" height="289.00" fill="#ffffff" fill-opacity="0.85"/>
<rect x="116.67" y="23.00" width="0.32" height="6.20" fill="#ffffff" fill-opacity="0.55"/>
<rect x="116.67" y="30.00" width="0.32" height="289.00" fill="#ffffff" fill-opacity="0.85"/>
<rect x="118.45" y="23.00" width="0.32" height="6.20" fill="#ffffff" fill-opacity="0.55"/>
<rect x="118.45" y="30.00" width="0.32" height="289.00" fill="#ffffff" fill-opacity="0.85"/>
<rect x="120.23" y="23.00" width="0.32" height="6.20" fill="#ffffff" fill-opacity="0.55"/>
<rect x="120.23" y="30.00" width="0.32" height="289.00" fill="#ffffff" fill-opacity="0.85"/>
<rect x="122.01" y="23.00" width="0.32" height="6.20" fill="#ffffff" fill-opacity="0.55"/>
<rect x="122.01" y="30.00" width="0.32" height="289.00" fill="#ffffff" fill-opacity="0.85"/>
<rect x="123.79" y="23.00" width="0.32" height="6.20" fill="#ffffff" fill-opacity="0.55"/>
<rect x="123.79" y="30.00" width="0.32" height="289.00" fill="#ffffff" fill-opacity="0.85"/>
<rect x="125.57" y="23.00" width="0.32" height="6.20" fill="#ffffff" fill-opacity="0.55"/>
<rect x="125.57" y="30.00" width="0.32" height="289.00" fill="#ffffff" fill-opacity="0.85"/>
<rect x="127.35" y="23.00" width="0.32" height="6.20" fill="#ffffff" fill-opacity="0.55"/>
<rect x="127.35" y="30.00" width="0.32" height="289.00" fill="#ffffff" fill-opacity="0.85"/>
<rect x="129.13" y="23.00" width="0.32" height="6.20" fill="#ffffff" fill-opacity="0.55"/>
<rect x="129.13" y="30.00" width="0.32" height="289.00" fill="#ffffff" fill-opacity="0.85"/>
<rect x="130.91" y="23.00" width="0.32" height="6.20" fill="#ffffff" fill-opacity="0.55"/>
<rect x="130.91" y="30.00" width="0.32" height="289.00" fill="#ffffff" fill-opacity="0.85"/>
<rect x="132.69" y="23.00" width="0.32" height="6.20" fill="#ffffff" fill-opacity="0.55"/>
<rect x="132.69" y="30.00" width="0.32" height="289.00" fill="#ffffff" fill-opacity="0.85"/>
<rect x="134.47" y="23.00" width="0.32" height="6.20" fill="#ffffff" fill-opacity="0.55"/>
<rect x="134.47" y="30.00" width="0.32" height="289.00" fill="#ffffff" fill-opacity="0.85"/>
<rect x="136.25" y="23.00" width="0.32" height="6.20" fill="#ffffff" fill-opacity="0.55"/>
<rect x="136.25" y="30.00" width="0.32" height="289.00" fill="#ffffff" fill-opacity="0.85"/>
<rect x="138.04" y="23.00" width="0.32" height="6.20" fill="#ffffff" fill-opacity="0.55"/>
<rect x="138.04" y="30.00" width="0.32" height="289.00" fill="#ffffff" fill-opacity="0.85"/>
<rect x="139.82" y="23.00" width="0.32" height="6.20" fill="#ffffff" fill-opacity="0.55"/>
<rect x="139.82" y="30.00" width="0.32" height="289.00" fill="#ffffff" fill-opacity="0.85"/>
<rect x="141.60" y="23.00" width="0.32" height="6.20" fill="#ffffff" fill-opacity="0.55"/>
<rect x="141.60" y="30.00" width="0.32" height="289.00" fill="#ffffff" fill-opacity="0.85"/>
<rect x="143.38" y="23.00" width="0.32" height="6.20" fill="#ffffff" fill-opacity="0.55"/>
<rect x="143.38" y="30.00" width="0.32" height="289.00" fill="#ffffff" fill-opacity="0.85"/>
<rect x="145.16" y="23.00" width="0.32" height="6.20" fill="#ffffff" fill-opacity="0.55"/>
<rect x="145.16" y="30.00" width="0.32" height="289.00" fill="#ffffff" fill-opacity="0.85"/>
<rect x="146.94" y="23.00" width="0.32" height="6.20" fill="#ffffff" fill-opacity="0.55"/>
<rect x="146.94" y="30.00" width="0.32" height="289.00" fill="#ffffff" fill-opacity="0.85"/>
<rect x="148.72" y="23.00" width="0.32" height="6.20" fill="#ffffff" fill-opacity="0.55"/>
<rect x="148.72" y="30.00" width="0.32" height="289.00" fill="#ffffff" fill-opacity="0.85"/>
<rect x="150.50" y="23.00" width="0.32" height="6.20" fill="#ffffff" fill-opacity="0.55"/>
<rect x="150.50" y="30.00" width="0.32" height="289.00" fill="#ffffff" fill-opacity="0.85"/>
<rect x="152.28" y="23.00" width="0.32" height="6.20" fill="#ffffff" fill-opacity="0.55"/>
<rect x="152.28" y="30.00" width="0.32" height="289.00" fill="#ffffff" fill-opacity="0.85"/>
<rect x="154.06" y="23.00" width="0.32" height="6.20" fill="#ffffff" fill-opacity="0.55"/>
<rect x="154.06" y="30.00" width="0.32" height="289.00" fill="#ffffff" fill-opacity="0.85"/>
<rect x="155.84" y="23.00" width="0.32" height="6.20" fill="#ffffff" fill-opacity="0.55"/>
<rect x="155.84" y="30.00" width="0.32" height="289.00" fill="#ffffff" fill-opacity="0.85"/>
<rect x="157.62" y="23.00" width="0.32" height="6.20" fill="#ffffff" fill-opacity="0.55"/>
<rect x="157.62" y="30.00" width="0.32" height="289.00" fill="#ffffff" fill-opacity="0.85"/>
<rect x="159.40" y="23.00" width="0.32" height="6.20" fill="#ffffff" fill-opacity="0.55"/>
<rect x="159.40" y="30.00" width="0.32" height="289.00" fill="#ffffff" fill-opacity="0.85"/>
<rect x="161.18" y="23.00" width="0.32" height="6.20" fill="#ffffff" fill-opacity="0.55"/>
<rect x="161.18" y="30.00" width="0.32" height="289.00" fill="#ffffff" fill-opacity="0.85"/>
<rect x="162.96" y="23.00" width="0.32" height="6.20" fill="#ffffff" fill-opacity="0.55"/>
<rect x="162.96" y="30.00" width="0.32" height="289.00" fill="#ffffff" fill-opacity="0.85"/>
<rect x="164.74" y="23.00" width="0.32" height="6.20" fill="#ffffff" fill-opacity="0.55"/>
<rect x="164.74" y="30.00" width="0.32" height="289.00" fill="#ffffff" fill-opacity="0.85"/>
<rect x="166.52" y="23.00" width="0.32" height="6.20" fill="#ffffff" fill-opacity="0.55"/>
<rect x="166.52" y="30.00" width="0.32" height="289.00" fill="#ffffff" fill-opacity="0.85"/>
<rect x="168.30" y="23.00" width="0.32" height="6.20" fill="#ffffff" fill-opacity="0.55"/>
<rect x="168.30" y="30.00" width="0.32" height="289.00" fill="#ffffff" fill-opacity="0.85"/>
<rect x="170.08" y="23.00" width="0.32" height="6.20" fill="#ffffff" fill-opacity="0.55"/>
<rect x="170.08" y="30.00" width="0.32" height="289.00" fill="#ffffff" fill-opacity="0.85"/>
<rect x="171.87" y="23.00" width="0.32" height="6.20" fill="#ffffff" fill-opacity="0.55"/>
<rect x="171.87" y="30.00" width="0.32" height="289.00" fill="#ffffff" fill-opacity="0.85"/>
<rect x="173.65" y="23.00" width="0.32" height="6.20" fill="#ffffff" fill-opacity="0.55"/>
<rect x="173.65" y="30.00" width="0.32" height="289.00" fill="#ffffff" fill-opacity="0.85"/>
<rect x="175.43" y="23.00" width="0.32" height="6.20" fill="#ffffff" fill-opacity="0.55"/>
<rect x="175.43" y="30.00" width="0.32" height="289.00" fill="#ffffff" fill-opacity="0.85"/>
<rect x="177.21" y="23.00" width="0.32" height="6.20" fill="#ffffff" fill-opacity="0.55"/>
<rect x="177.21" y="30.00" width="0.32" height="289.00" fill="#ffffff" fill-opacity="0.85"/>
<rect x="178.99" y="23.00" width="0.32" height="6.20" fill="#ffffff" fill-opacity="0.55"/>
<rect x="178.99" y="30.00" width="0.32" height="289.00" fill="#ffffff" fill-opacity="0.85"/>
<rect x="180.77" y="23.00" width="0.32" height="6.20" fill="#ffffff" fill-opacity="0.55"/>
<rect x="180.77" y="30.00" width="0.32" height="289.00" fill="#ffffff" fill-opacity="0.85"/>
<rect x="182.55" y="23.00" width="0.32" height="6.20" fill="#ffffff" fill-opacity="0.55"/>
<rect x="182.55" y="30.00" width="0.32" height="289.00" fill="#ffffff" fill-opacity="0.85"/>
<rect x="184.33" y="23.00" width="0.32" height="6.20" fill="#ffffff" fill-opacity="0.55"/>
<rect x="184.33" y="30.00" width="0.32" height="289.00" fill="#ffffff" fill-opacity="0.85"/>
<rect x="186.11" y="23.00" width="0.32" height="6.20" fill="#ffffff" fill-opacity="0.55"/>
<rect x="186.11" y="30.00" width="0.32" height="289.00" fill="#ffffff" fill-opacity="0.85"/>
<rect x="187.89" y="23.00" width="0.32" height="6.20" fill="#ffffff" fill-opacity="0.55"/>
<rect x="187.89" y="30.00" width="0.32" height="289.00" fill="#ffffff" fill-opacity="0.85"/>
<rect x="189.67" y="23.00" width="0.32" height="6.20" fill="#ffffff" fill-opacity="0.55"/>
<rect x="189.67" y="30.00" width="0.32" height="289.00" fill="#ffffff" fill-opacity="0.85"/>
<rect x="191.45" y="23.00" width="0.32" height="6.20" fill="#ffffff" fill-opacity="0.55"/>
<rect x="191.45" y="30.00" width="0.32" height="289.00" fill="#ffffff" fill-opacity="0.85"/>
<rect x="193.23" y="23.00" width="0.32" height="6.20" fill="#ffffff" fill-opacity="0.55"/>
<rect x="193.23" y="30.00" width="0.32" height="289.00" fill="#ffffff" fill-opacity="0.85"/>
<rect x="195.01" y="23.00" width="0.32" height="6.20" fill="#ffffff" fill-opacity="0.55"/>
<rect x="195.01" y="30.00" width="0.32" height="289.00" fill="#ffffff" fill-opacity="0.85"/>
<rect x="196.79" y="23.00" width="0.32" height="6.20" fill="#ffffff" fill-opacity="0.55"/>
<rect x="196.79" y="30.00" width="0.32" height="289.00" fill="#ffffff" fill-opacity="0.85"/>
<rect x="198.57" y="23.00" width="0.32" height="6.20" fill="#ffffff" fill-opacity="0.55"/>
<rect x="198.57" y="30.00" width="0.32" height="289.00" fill="#ffffff" fill-opacity="0.85"/>
<rect x="200.35" y="23.00" width="0.32" height="6.20" fill="#ffffff" fill-opacity="0.55"/>
<rect x="200.35" y="30.00" width="0.32" height="289.00" fill="#ffffff" fill-opacity="0.85"/>
<rect x="202.13" y="23.00" width="0.32" height="6.20" fill="#ffffff" fill-opacity="0.55"/>
<rect x="202.13" y="30.00" width="0.32" height="289.00" fill="#ffffff" fill-opacity="0.85"/>
<rect x="203.91" y="23.00" width="0.32" height="6.20" fill="#ffffff" fill-opacity="0.55"/>
<rect x="203.91" y="30.00" width="0.32" height="289.00" fill="#ffffff" fill-opacity="0.85"/>
<rect x="205.69" y="23.00" width="0.32" height="6.20" fill="#ffffff" fill-opacity="0.55"/>
<rect x="205.69" y="30.00" width="0.32" height="289.00" fill="#ffffff" fill-opacity="0.85"/>
<rect x="207.47" y="23.00" width="0.32" height="6.20" fill="#ffffff" fill-opacity="0.55"/>
<rect x="207.47" y="30.00" width="0.32" height="289.00" fill="#ffffff" fill-opacity="0.85"/>
<rect x="209.26" y="23.00" width="0.32" height="6.20" fill="#ffffff" fill-opacity="0.55"/>
<rect x="209.26" y="30.00" width="0.32" height="289.00" fill="#ffffff" fill-opacity="0.85"/>
<rect x="211.04" y="23.00" width="0.32" height="6.20" fill="#ffffff" fill-opacity="0.55"/>
<rect x="211.04" y="30.00" width="0.32" height="289.00" fill="#ffffff" fill-opacity="0.85"/>
<rect x="212.82" y="23.00" width="0.32" height="6.20" fill="#ffffff" fill-opacity="0.55"/>
<rect x="212.82" y="30.00" width="0.32" height="289.00" fill="#ffffff" fill-opacity="0.85"/>
<rect x="214.60" y="23.00" width="0.32" height="6.20" fill="#ffffff" fill-opacity="0.55"/>
<rect x="214.60" y="30.00" width="0.32" height="289.00" fill="#ffffff" fill-opacity="0.85"/>
<rect x="216.38" y="23.00" width="0.32" height="6.20" fill="#ffffff" fill-opacity="0.55"/>
<rect x="216.38" y="30.00" width="0.32" height="289.00" fill="#ffffff" fill-opacity="0.85"/>
<rect x="218.16" y="23.00" width="0.32" height="6.20" fill="#ffffff" fill-opacity="0.55"/>
<rect x="218.16" y="30.00" width="0.32" height="289.00" fill="#ffffff" fill-opacity="0.85"/>
<rect x="219.94" y="23.00" width="0.32" height="6.20" fill="#ffffff" fill-opacity="0.55"/>
<rect x="219.94" y="30.00" width="0.32" height="289.00" fill="#ffffff" fill-opacity="0.85"/>
<rect x="221.72" y="23.00" width="0.32" height="6.20" fill="#ffffff" fill-opacity="0.55"/>
<rect x="221.72" y="30.00" width="0.32" height="289.00" fill="#ffffff" fill-opacity="0.85"/>
<rect x="223.50" y="23.00" width="0.32" height="6.20" fill="#ffffff" fill-opacity="0.55"/>
<rect x="223.50" y="30.00" width="0.32" height="289.00" fill="#ffffff" fill-opacity="0.85"/>
<rect x="225.28" y="23.00" width="0.32" height="6.20" fill="#ffffff" fill-opacity="0.55"/>
<rect x="225.28" y="30.00" width="0.32" height="289.00" fill="#ffffff" fill-opacity="0.85"/>
<rect x="227.06" y="23.00" width="0.32" height="6.20" fill="#ffffff" fill-opacity="0.55"/>
<rect x="227.06" y="30.00" width="0.32" height="289.00" fill="#ffffff" fill-opacity="0.85"/>
<rect x="228.84" y="23.00" width="0.32" height="6.20" fill="#ffffff" fill-opacity="0.55"/>
<rect x="228.84" y="30.00" width="0.32" height="289.00" fill="#ffffff" fill-opacity="0.85"/>
<rect x="230.62" y="23.00" width="0.32" height="6.20" fill="#ffffff" fill-opacity="0.55"/>
<rect x="230.62" y="30.00" width="0.32" height="289.00" fill="#ffffff" fill-opacity="0.85"/>
<rect x="232.40" y="23.00" width="0.32" height="6.20" fill="#ffffff" fill-opacity="0.55"/>
<rect x="232.40" y="30.00" width="0.32" height="289.00" fill="#ffffff" fill-opacity="0.85"/>
<rect x="234.18" y="23.00" width="0.32" height="6.20" fill="#ffffff" fill-opacity="0.55"/>
<rect x="234.18" y="30.00" width="0.32" height="289.00" fill="#ffffff" fill-opacity="0.85"/>
<rect x="235.96" y="23.00" width="0.32" height="6.20" fill="#ffffff" fill-opacity="0.55"/>
<rect x="235.96" y="30.00" width="0.32" height="289.00" fill="#ffffff" fill-opacity="0.85"/>
<rect x="237.74" y="23.00" width="0.32" height="6.20" fill="#ffffff" fill-opacity="0.55"/>
<rect x="237.74" y="30.00" width="0.32" height="289.00" fill="#ffffff" fill-opacity="0.85"/>
<rect x="239.52" y="23.00" width="0.32" height="6.20" fill="#ffffff" fill-opacity="0.55"/>
<rect x="239.52" y="30.00" width="0.32" height="289.00" fill="#ffffff" fill-opacity="0.85"/>
<rect x="241.30" y="23.00" width="0.32" height="6.20" fill="#ffffff" fill-opacity="0.55"/>
<rect x="241.30" y="30.00" width="0.32" height="289.00" fill="#ffffff" fill-opacity="0.85"/>
<rect x="243.09" y="23.00" width="0.32" height="6.20" fill="#ffffff" fill-opacity="0.55"/>
<rect x="243.09" y="30.00" width="0.32" height="289.00" fill="#ffffff" fill-opacity="0.85"/>
<rect x="244.87" y="23.00" width="0.32" height="6.20" fill="#ffffff" fill-opacity="0.55"/>
<rect x="244.87" y="30.00" width="0.32" height="289.00" fill="#ffffff" fill-opacity="0.85"/>
<rect x="246.65" y="23.00" width="0.32" height="6.20" fill="#ffffff" fill-opacity="0.55"/>
<rect x="246.65" y="30.00" width="0.32" height="289.00" fill="#ffffff" fill-opacity="0.85"/>
<rect x="248.43" y="23.00" width="0.32" height="6.20" fill="#ffffff" fill-opacity="0.55"/>
<rect x="248.43" y="30.00" width="0.32" height="289.00" fill="#ffffff" fill-opacity="0.85"/>
<rect x="250.21" y="23.00" width="0.32" height="6.20" fill="#ffffff" fill-opacity="0.55"/>
<rect x="250.21" y="30.00" width="0.32" height="289.00" fill="#ffffff" fill-opacity="0.85"/>
<rect x="251.99" y="23.00" width="0.32" height="6.20" fill="#ffffff" fill-opacity="0.55"/>
<rect x="251.99" y="30.00" width="0.32" height="289.00" fill="#ffffff" fill-opacity="0.85"/>
<rect x="253.77" y="23.00" width="0.32" height="6.20" fill="#ffffff" fill-opacity="0.55"/>
<rect x="253.77" y="30.00" width="0.32" height="289.00" fill="#ffffff" fill-opacity="0.85"/>
<rect x="255.55" y="23.00" width="0.32" height="6.20" fill="#ffffff" fill-opacity="0.55"/>
<rect x="255.55" y="30.00" width="0.32" height="289.00" fill="#ffffff" fill-opacity="0.85"/>
<rect x="257.33" y="23.00" width="0.32" height="6.20" fill="#ffffff" fill-opacity="0.55"/>
<rect x="257.33" y="30.00" width="0.32" height="289.00" fill="#ffffff" fill-opacity="0.85"/>
<rect x="259.11" y="23.00" width="0.32" height="6.20" fill="#ffffff" fill-opacity="0.55"/>
<rect x="259.11" y="30.00" width="0.32" height="289.00" fill="#ffffff" fill-opacity="0.85"/>
<rect x="260.89" y="23.00" width="0.32" height="6.20" fill="#ffffff" fill-opacity="0.55"/>
<rect x="260.89" y="30.00" width="0.32" height="289.00" fill="#ffffff" fill-opacity="0.85"/>
<rect x="262.67" y="23.00" width="0.32" height="6.20" fill="#ffffff" fill-opacity="0.55"/>
<rect x="262.67" y="30.00" width="0.32" height="289.00" fill="#ffffff" fill-opacity="0.85"/>
<rect x="264.45" y="23.00" width="0.32" height="6.20" fill="#ffffff" fill-opacity="0.55"/>
<rect x="264.45" y="30.00" width="0.32" height="289.00" fill="#ffffff" fill-opacity="0.85"/>
<rect x="266.23" y="23.00" width="0.32" height="6.20" fill="#ffffff" fill-opacity="0.55"/>
<rect x="266.23" y="30.00" width="0.32" height="289.00" fill="#ffffff" fill-opacity="0.85"/>
<rect x="268.01" y="23.00" width="0.32" height="6.20" fill="#ffffff" fill-opacity="0.55"/>
<rect x="268.01" y="30.00" width="0.32" height="289.00" fill="#ffffff" fill-opacity="0.85"/>
<rect x="269.79" y="23.00" width="0.32" height="6.20" fill="#ffffff" fill-opacity="0.55"/>
<rect x="269.79" y="30.00" width="0.32" height="289.00" fill="#ffffff" fill-opacity="0.85"/>
<rect x="271.57" y="23.00" width="0.32" height="6.20" fill="#ffffff" fill-opacity="0.55"/>
<rect x="271.57" y="30.00" width="0.32" height="289.00" fill="#ffffff" fill-opacity="0.85"/>
<rect x="273.35" y="23.00" width="0.32" height="6.20" fill="#ffffff" fill-opacity="0.55"/>
<rect x="273.35" y="30.00" width="0.32" height="289.00" fill="#ffffff" fill-opacity="0.85"/>
<rect x="275.13" y="23.00" width="0.32" height="6.20" fill="#ffffff" fill-opacity="0.55"/>
<rect x="275.13" y="30.00" width="0.32" height="289.00" fill="#ffffff" fill-opacity="0.85"/>
<rect x="276.91" y="23.00" width="0.32" height="6.20" fill="#ffffff" fill-opacity="0.55"/>
<rect x="276.91" y="30.00" width="0.32" height="289.00" fill="#ffffff" fill-opacity="0.85"/>
<rect x="278.69" y="23.00" width="0.32" height="6.20" fill="#ffffff" fill-opacity="0.55"/>
<rect x="278.69" y="30.00" width="0.32" height="289.00" fill="#ffffff" fill-opacity="0.85"/>
<rect x="280.48" y="23.00" width="0.32" height="6.20" fill="#ffffff" fill-opacity="0.55"/>
<rect x="280.48" y="30.00" width="0.32" height="289.00" fill="#ffffff" fill-opacity="0.85"/>
<rect x="282.26" y="23.00" width="0.32" height="6.20" fill="#ffffff" fill-opacity="0.55"/>
<rect x="282.26" y="30.00" width="0.32" height="289.00" fill="#ffffff" fill-opacity="0.85"/>
<rect x="284.04" y="23.00" width="0.32" height="6.20" fill="#ffffff" fill-opacity="0.55"/>
<rect x="284.04" y="30.00" width="0.32" height="289.00" fill="#ffffff" fill-opacity="0.85"/>
<rect x="285.82" y="23.00" width="0.32" height="6.20" fill="#ffffff" fill-opacity="0.55"/>
<rect x="285.82" y="30.00" width="0.32" height="289.00" fill="#ffffff" fill-opacity="0.85"/>
<rect x="287.60" y="23.00" width="0.32" height="6.20" fill="#ffffff" fill-opacity="0.55"/>
<rect x="287.60" y="30.00" width="0.32" height="289.00" fill="#ffffff" fill-opacity="0.85"/>
<rect x="289.38" y="23.00" width="0.32" height="6.20" fill="#ffffff" fill-opacity="0.55"/>
<rect x="289.38" y="30.00" width="0.32" height="289.00" fill="#ffffff" fill-opacity="0.85"/>
<rect x="291.16" y="23.00" width="0.32" height="6.20" fill="#ffffff" fill-opacity="0.55"/>
<rect x="291.16" y="30.00" width="0.32" height="289.00" fill="#ffffff" fill-opacity="0.85"/>
<rect x="292.94" y="23.00" width="0.32" height="6.20" fill="#ffffff" fill-opacity="0.55"/>
<rect x="292.94" y="30.00" width="0.32" height="289.00" fill="#ffffff" fill-opacity="0.85"/>
<rect x="294.72" y="23.00" width="0.32" height="6.20" fill="#ffffff" fill-opacity="0.55"/>
<rect x="294.72" y="30.00" width="0.32" height="289.00" fill="#ffffff" fill-opacity="0.85"/>
<rect x="296.50" y="23.00" width="0.32" height="6.20" fill="#ffffff" fill-opacity="0.55"/>
<rect x="296.50" y="30.00" width="0.32" height="289.00" fill="#ffffff" fill-opacity="0.85"/>
<rect x="298.28" y="23.00" width="0.32" height="6.20" fill="#ffffff" fill-opacity="0.55"/>
<rect x="298.28" y="30.00" width="0.32" height="289.00" fill="#ffffff" fill-opacity="0.85"/>
<rect x="300.06" y="23.00" width="0.32" height="6.20" fill="#ffffff" fill-opacity="0.55"/>
<rect x="300.06" y="30.00" width="0.32" height="289.00" fill="#ffffff" fill-opacity="0.85"/>
<rect x="301.84" y="23.00" width="0.32" height="6.20" fill="#ffffff" fill-opacity="0.55"/>
<rect x="301.84" y="30.00" width="0.32" height="289.00" fill="#ffffff" fill-opacity="0.85"/>
<rect x="303.62" y="23.00" width="0.32" height="6.20" fill="#ffffff" fill-opacity="0.55"/>
<rect x="303.62" y="30.00" width="0.32" height="289.00" fill="#ffffff" fill-opacity="0.85"/>
<rect x="305.40" y="23.00" width="0.32" height="6.20" fill="#ffffff" fill-opacity="0.55"/>
<rect x="305.40" y="30.00" width="0.32" height="289.00" fill="#ffffff" fill-opacity="0.85"/>
<rect x="307.18" y="23.00" width="0.32" height="6.20" fill="#ffffff" fill-opacity="0.55"/>
<rect x="307.18" y="30.00" width="0.32" height="289.00" fill="#ffffff" fill-opacity="0.85"/>
<rect x="308.96" y="23.00" width="0.32" height="6.20" fill="#ffffff" fill-opacity="0.55"/>
<rect x="308.96" y="30.00" width="0.32" height="289.00" fill="#ffffff" fill-opacity="0.85"/>
<rect x="310.74" y="23.00" width="0.32" height="6.20" fill="#ffffff" fill-opacity="0.55"/>
<rect x="310.74" y="30.00" width="0.32" height="289.00" fill="#ffffff" fill-opacity="0.85"/>
<rect x="312.52" y="23.00" width="0.32" height="6.20" fill="#ffffff" fill-opacity="0.55"/>
<rect x="312.52" y="30.00" width="0.32" height="289.00" fill="#ffffff" fill-opacity="0.85"/>
<rect x="314.31" y="23.00" width="0.32" height="6.20" fill="#ffffff" fill-opacity="0.55"/>
<rect x="314.31" y="30.00" width="0.32" height="289.00" fill="#ffffff" fill-opacity="0.85"/>
<rect x="319.22" y="23.00" width="0.32" height="6.20" fill="#ffffff" fill-opacity="0.55"/>
<rect x="319.22" y="30.00" width="0.32" height="289.00" fill="#ffffff" fill-opacity="0.85"/>
<rect x="321.00" y="23.00" width="0.32" height="6.20" fill="#ffffff" fill-opacity="0.55"/>
<rect x="321.00" y="30.00" width="0.32" height="289.00" fill="#ffffff" fill-opacity="0.85"/>
<rect x="322.78" y="23.00" width="0.32" height="6.20" fill="#ffffff" fill-opacity="0.55"/>
<rect x="322.78" y="30.00" width="0.32" height="289.00" fill="#ffffff" fill-opacity="0.85"/>
<rect x="324.56" y="23.00" width="0.32" height="6.20" fill="#ffffff" fill-opacity="0.55"/>
<rect x="324.56" y="30.00" width="0.32" height="289.00" fill="#ffffff" fill-opacity="0.85"/>
<rect x="326.34" y="23.00" width="0.32" height="6.20" fill="#ffffff" fill-opacity="0.55"/>
<rect x="326.34" y="30.00" width="0.32" height="289.00" fill="#ffffff" fill-opacity="0.85"/>
<rect x="328.12" y="23.00" width="0.32" height="6.20" fill="#ffffff" fill-opacity="0.55"/>
<rect x="328.12" y="30.00" width="0.32" height="289.00" fill="#ffffff" fill-opacity="0.85"/>
<rect x="329.90" y="23.00" width="0.32" height="6.20" fill="#ffffff" fill-opacity="0.55"/>
<rect x="329.90" y="30.00" width="0.32" height="289.00" fill="#ffffff" fill-opacity="0.85"/>
<rect x="331.68" y="23.00" width="0.32" height="6.20" fill="#ffffff" fill-opacity="0.55"/>
<rect x="331.68" y="30.00" width="0.32" height="289.00" fill="#ffffff" fill-opacity="0.85"/>
<rect x="333.46" y="23.00" width="0.32" height="6.20" fill="#ffffff" fill-opacity="0.55"/>
<rect x="333.46" y="30.00" width="0.32" height="289.00" fill="#ffffff" fill-opacity="0.85"/>
<rect x="335.25" y="23.00" width="0.32" height="6.20" fill="#ffffff" fill-opacity="0.55"/>
<rect x="335.25" y="30.00" width="0.32" height="289.00" fill="#ffffff" fill-opacity="0.85"/>
<rect x="337.03" y="23.00" width="0.32" height="6.20" fill="#ffffff" fill-opacity="0.55"/>
<rect x="337.03" y="30.00" width="0.32" height="289.00" fill="#ffffff" fill-opacity="0.85"/>
<rect x="338.81" y="23.00" width="0.32" height="6.20" fill="#ffffff" fill-opacity="0.55"/>
<rect x="338.81" y="30.00" width="0.32" height="289.00" fill="#ffffff" fill-opacity="0.85"/>
<rect x="340.59" y="23.00" width="0.32" height="6.20" fill="#ffffff" fill-opacity="0.55"/>
<rect x="340.59" y="30.00" width="0.32" height="289.00" fill="#ffffff" fill-opacity="0.85"/>
<rect x="342.37" y="23.00" width="0.32" height="6.20" fill="#ffffff" fill-opacity="0.55"/>
<rect x="342.37" y="30.00" width="0.32" height="289.00" fill="#ffffff" fill-opacity="0.85"/>
<rect x="344.15" y="23.00" width="0.32" height="6.20" fill="#ffffff" fill-opacity="0.55"/>
<rect x="344.15" y="30.00" width="0.32" height="289.00" fill="#ffffff" fill-opacity="0.85"/>
<rect x="345.93" y="23.00" width="0.32" height="6.20" fill="#ffffff" fill-opacity="0.55"/>
<rect x="345.93" y="30.00" width="0.32" height="289.00" fill="#ffffff" fill-opacity="0.85"/>
<rect x="347.71" y="23.00" width="0.32" height="6.20" fill="#ffffff" fill-opacity="0.55"/>
<rect x="347.71" y="30.00" width="0.32" height="289.00" fill="#ffffff" fill-opacity="0.85"/>
<rect x="349.49" y="23.00" width="0.32" height="6.20" fill="#ffffff" fill-opacity="0.55"/>
<rect x="349.49" y="30.00" width="0.32" height="289.00" fill="#ffffff" fill-opacity="0.85"/>
<rect x="351.27" y="23.00" width="0.32" height="6.20" fill="#ffffff" fill-opacity="0.55"/>
<rect x="351.27" y="30.00" width="0.32" height="289.00" fill="#ffffff" fill-opacity="0.85"/>
<rect x="353.05" y="23.00" width="0.32" height="6.20" fill="#ffffff" fill-opacity="0.55"/>
<rect x="353.05" y="30.00" width="0.32" height="289.00" fill="#ffffff" fill-opacity="0.85"/>
<rect x="354.83" y="23.00" width="0.32" height="6.20" fill="#ffffff" fill-opacity="0.55"/>
<rect x="354.83" y="30.00" width="0.32" height="289.00" fill="#ffffff" fill-opacity="0.85"/>
<rect x="356.61" y="23.00" width="0.32" height="6.20" fill="#ffffff" fill-opacity="0.55"/>
<rect x="356.61" y="30.00" width="0.32" height="289.00" fill="#ffffff" fill-opacity="0.85"/>
<rect x="358.39" y="23.00" width="0.32" height="6.20" fill="#ffffff" fill-opacity="0.55"/>
<rect x="358.39" y="30.00" width="0.32" height="289.00" fill="#ffffff" fill-opacity="0.85"/>
<rect x="360.17" y="23.00" width="0.32" height="6.20" fill="#ffffff" fill-opacity="0.55"/>
<rect x="360.17" y="30.00" width="0.32" height="289.00" fill="#ffffff" fill-opacity="0.85"/>
<rect x="361.95" y="23.00" width="0.32" height="6.20" fill="#ffffff" fill-opacity="0.55"/>
<rect x="361.95" y="30.00" width="0.32" height="289.00" fill="#ffffff" fill-opacity="0.85"/>
<rect x="363.73" y="23.00" width="0.32" height="6.20" fill="#ffffff" fill-opacity="0.55"/>
<rect x="363.73" y="30.00" width="0.32" height="289.00" fill="#ffffff" fill-opacity="0.85"/>
<rect x="365.51" y="23.00" width="0.32" height="6.20" fill="#ffffff" fill-opacity="0.55"/>
<rect x="365.51" y="30.00" width="0.32" height="289.00" fill="#ffffff" fill-opacity="0.85"/>
<rect x="367.29" y="23.00" width="0.32" height="6.20" fill="#ffffff" fill-opacity="0.55"/>
<rect x="367.29" y="30.00" width="0.32" height="289.00" fill="#ffffff" fill-opacity="0.85"/>
<rect x="369.07" y="23.00" width="0.32" height="6.20" fill="#ffffff" fill-opacity="0.55"/>
<rect x="369.07" y="30.00" width="0.32" height="289.00" fill="#ffffff" fill-opacity="0.85"/>
<rect x="370.86" y="23.00" width="0.32" height="6.20" fill="#ffffff" fill-opacity="0.55"/>
<rect x="370.86" y="30.00" width="0.32" height="289.00" fill="#ffffff" fill-opacity="0.85"/>
<rect x="372.64" y="23.00" width="0.32" height="6.20" fill="#ffffff" fill-opacity="0.55"/>
<rect x="372.64" y="30.00" width="0.32" height="289.00" fill="#ffffff" fill-opacity="0.85"/>
<rect x="374.42" y="23.00" width="0.32" height="6.20" fill="#ffffff" fill-opacity="0.55"/>
<rect x="374.42" y="30.00" width="0.32" height="289.00" fill="#ffffff" fill-opacity="0.85"/>
<rect x="376.20" y="23.00" width="0.32" height="6.20" fill="#ffffff" fill-opacity="0.55"/>
<rect x="376.20" y="30.00" width="0.32" height="289.00" fill="#ffffff" fill-opacity="0.85"/>
<rect x="377.98" y="23.00" width="0.32" height="6.20" fill="#ffffff" fill-opacity="0.55"/>
<rect x="377.98" y="30.00" width="0.32" height="289.00" fill="#ffffff" fill-opacity="0.85"/>
<rect x="379.76" y="23.00" width="0.32" height="6.20" fill="#ffffff" fill-opacity="0.55"/>
<rect x="379.76" y="30.00" width="0.32" height="289.00" fill="#ffffff" fill-opacity="0.85"/>
<rect x="381.54" y="23.00" width="0.32" height="6.20" fill="#ffffff" fill-opacity="0.55"/>
<rect x="381.54" y="30.00" width="0.32" height="289.00" fill="#ffffff" fill-opacity="0.85"/>
<rect x="383.32" y="23.00" width="0.32" height="6.20" fill="#ffffff" fill-opacity="0.55"/>
<rect x="383.32" y="30.00" width="0.32" height="289.00" fill="#ffffff" fill-opacity="0.85"/>
<rect x="385.10" y="23.00" width="0.32" height="6.20" fill="#ffffff" fill-opacity="0.55"/>
<rect x="385.10" y="30.00" width="0.32" height="289.00" fill="#ffffff" fill-opacity="0.85"/>
<rect x="386.88" y="23.00" width="0.32" height="6.20" fill="#ffffff" fill-opacity="0.55"/>
<rect x="386.88" y="30.00" width="0.32" height="289.00" fill="#ffffff" fill-opacity="0.85"/>
<rect x="388.66" y="23.00" width="0.32" height="6.20" fill="#ffffff" fill-opacity="0.55"/>
<rect x="388.66" y="30.00" width="0.32" height="289.00" fill="#ffffff" fill-opacity="0.85"/>
<rect x="390.44" y="23.00" width="0.32" height="6.20" fill="#ffffff" fill-opacity="0.55"/>
<rect x="390.44" y="30.00" width="0.32" height="289.00" fill="#ffffff" fill-opacity="0.85"/>
<rect x="392.22" y="23.00" width="0.32" height="6.20" fill="#ffffff" fill-opacity="0.55"/>
<rect x="392.22" y="30.00" width="0.32" height="289.00" fill="#ffffff" fill-opacity="0.85"/>
<rect x="394.00" y="23.00" width="0.32" height="6.20" fill="#ffffff" fill-opacity="0.55"/>
<rect x="394.00" y="30.00" width="0.32" height="289.00" fill="#ffffff" fill-opacity="0.85"/>
<rect x="395.78" y="23.00" width="0.32" height="6.20" fill="#ffffff" fill-opacity="0.55"/>
<rect x="395.78" y="30.00" width="0.32" height="289.00" fill="#ffffff" fill-opacity="0.85"/>
<rect x="397.56" y="23.00" width="0.32" height="6.20" fill="#ffffff" fill-opacity="0.55"/>
<rect x="397.56" y="30.00" width="0.32" height="289.00" fill="#ffffff" fill-opacity="0.85"/>
<rect x="399.34" y="23.00" width="0.32" height="6.20" fill="#ffffff" fill-opacity="0.55"/>
<rect x="399.34" y="30.00" width="0.32" height="289.00" fill="#ffffff" fill-opacity="0.85"/>
<rect x="401.12" y="23.00" width="0.32" height="6.20" fill="#ffffff" fill-opacity="0.55"/>
<rect x="401.12" y="30.00" width="0.32" height="289.00" fill="#ffffff" fill-opacity="0.85"/>
<rect x="402.90" y="23.00" width="0.32" height="6.20" fill="#ffffff" fill-opacity="0.55"/>
<rect x="402.90" y="30.00" width="0.32" height="289.00" fill="#ffffff" fill-opacity="0.85"/>
<rect x="407.52" y="23.00" width="0.32" height="6.20" fill="#ffffff" fill-opacity="0.55"/>
<rect x="407.52" y="30.00" width="0.32" height="289.00" fill="#ffffff" fill-opacity="0.85"/>
<rect x="409.30" y="23.00" width="0.32" height="6.20" fill="#ffffff" fill-opacity="0.55"/>
<rect x="409.30" y="30.00" width="0.32" height="289.00" fill="#ffffff" fill-opacity="0.85"/>
<rect x="411.08" y="23.00" width="0.32" height="6.20" fill="#ffffff" fill-opacity="0.55"/>
<rect x="411.08" y="30.00" width="0.32" height="289.00" fill="#ffffff" fill-opacity="0.85"/>
<rect x="412.86" y="23.00" width="0.32" height="6.20" fill="#ffffff" fill-opacity="0.55"/>
<rect x="412.86" y="30.00" width="0.32" height="289.00" fill="#ffffff" fill-opacity="0.85"/>
<rect x="414.64" y="23.00" width="0.32" height="6.20" fill="#ffffff" fill-opacity="0.55"/>
<rect x="414.64" y="30.00" width="0.32" height="289.00" fill="#ffffff" fill-opacity="0.85"/>
<rect x="416.42" y="23.00" width="0.32" height="6.20" fill="#ffffff" fill-opacity="0.55"/>
<rect x="416.42" y="30.00" width="0.32" height="289.00" fill="#ffffff" fill-opacity="0.85"/>
<rect x="418.20" y="23.00" width="0.32" height="6.20" fill="#ffffff" fill-opacity="0.55"/>
<rect x="418.20" y="30.00" width="0.32" height="289.00" fill="#ffffff" fill-opacity="0.85"/>
<rect x="419.98" y="23.00" width="0.32" height="6.20" fill="#ffffff" fill-opacity="0.55"/>
<rect x="419.98" y="30.00" width="0.32" height="289.00" fill="#ffffff" fill-opacity="0.85"/>
<rect x="421.76" y="23.00" width="0.32" height="6.20" fill="#ffffff" fill-opacity="0.55"/>
<rect x="421.76" y="30.00" width="0.32" height="289.00" fill="#ffffff" fill-opacity="0.85"/>
<rect x="423.54" y="23.00" width="0.32" height="6.20" fill="#ffffff" fill-opacity="0.55"/>
<rect x="423.54" y="30.00" width="0.32" height="289.00" fill="#ffffff" fill-opacity="0.85"/>
<rect x="425.33" y="23.00" width="0.32" height="6.20" fill="#ffffff" fill-opacity="0.55"/>
<rect x="425.33" y="30.00" width="0.32" height="289.00" fill="#ffffff" fill-opacity="0.85"/>
<rect x="427.11" y="23.00" width="0.32" height="6.20" fill="#ffffff" fill-opacity="0.55"/>
<rect x="427.11" y="30.00" width="0.32" height="289.00" fill="#ffffff" fill-opacity="0.85"/>
<rect x="428.89" y="23.00" width="0.32" height="6.20" fill="#ffffff" fill-opacity="0.55"/>
<rect x="428.89" y="30.00" width="0.32" height="289.00" fill="#ffffff" fill-opacity="0.85"/>
<rect x="430.67" y="23.00" width="0.32" height="6.20" fill="#ffffff" fill-opacity="0.55"/>
<rect x="430.67" y="30.00" width="0.32" height="289.00" fill="#ffffff" fill-opacity="0.85"/>
<rect x="432.45" y="23.00" width="0.32" height="6.20" fill="#ffffff" fill-opacity="0.55"/>
<rect x="432.45" y="30.00" width="0.32" height="289.00" fill="#ffffff" fill-opacity="0.85"/>
<rect x="434.23" y="23.00" width="0.32" height="6.20" fill="#ffffff" fill-opacity="0.55"/>
<rect x="434.23" y="30.00" width="0.32" height="289.00" fill="#ffffff" fill-opacity="0.85"/>
<rect x="436.01" y="23.00" width="0.32" height="6.20" fill="#ffffff" fill-opacity="0.55"/>
<rect x="436.01" y="30.00" width="0.32" height="289.00" fill="#ffffff" fill-opacity="0.85"/>
<rect x="437.79" y="23.00" width="0.32" height="6.20" fill="#ffffff" fill-opacity="0.55"/>
<rect x="437.79" y="30.00" width="0.32" height="289.00" fill="#ffffff" fill-opacity="0.85"/>
<rect x="439.57" y="23.00" width="0.32" height="6.20" fill="#ffffff" fill-opacity="0.55"/>
<rect x="439.57" y="30.00" width="0.32" height="289.00" fill="#ffffff" fill-opacity="0.85"/>
<rect x="441.35" y="23.00" width="0.32" height="6.20" fill="#ffffff" fill-opacity="0.55"/>
<rect x="441.35" y="30.00" width="0.32" height="289.00" fill="#ffffff" fill-opacity="0.85"/>
<rect x="443.13" y="23.00" width="0.32" height="6.20" fill="#ffffff" fill-opacity="0.55"/>
<rect x="443.13" y="30.00" width="0.32" height="289.00" fill="#ffffff" fill-opacity="0.85"/>
<rect x="444.91" y="23.00" width="0.32" height="6.20" fill="#ffffff" fill-opacity="0.55"/>
<rect x="444.91" y="30.00" width="0.32" height="289.00" fill="#ffffff" fill-opacity="0.85"/>
<rect x="446.69" y="23.00" width="0.32" height="6.20" fill="#ffffff" fill-opacity="0.55"/>
<rect x="446.69" y="30.00" width="0.32" height="289.00" fill="#ffffff" fill-opacity="0.85"/>
<rect x="448.47" y="23.00" width="0.32" height="6.20" fill="#ffffff" fill-opacity="0.55"/>
<rect x="448.47" y="30.00" width="0.32" height="289.00" fill="#ffffff" fill-opacity="0.85"/>
<rect x="450.25" y="23.00" width="0.32" height="6.20" fill="#ffffff" fill-opacity="0.55"/>
<rect x="450.25" y="30.00" width="0.32" height="289.00" fill="#ffffff" fill-opacity="0.85"/>
<rect x="452.03" y="23.00" width="0.32" height="6.20" fill="#ffffff" fill-opacity="0.55"/>
<rect x="452.03" y="30.00" width="0.32" height="289.00" fill="#ffffff" fill-opacity="0.85"/>
<rect x="453.81" y="23.00" width="0.32" height="6.20" fill="#ffffff" fill-opacity="0.55"/>
<rect x="453.81" y="30.00" width="0.32" height="289.00" fill="#ffffff" fill-opacity="0.85"/>
<rect x="455.59" y="23.00" width="0.32" height="6.20" fill="#ffffff" fill-opacity="0.55"/>
<rect x="455.59" y="30.00" width="0.32" height="289.00" fill="#ffffff" fill-opacity="0.85"/>
<rect x="457.37" y="23.00" width="0.32" height="6.20" fill="#ffffff" fill-opacity="0.55"/>
<rect x="457.37" y="30.00" width="0.32" height="289.00" fill="#ffffff" fill-opacity="0.85"/>
<rect x="459.15" y="23.00" width="0.32" height="6.20" fill="#ffffff" fill-opacity="0.55"/>
<rect x="459.15" y="30.00" width="0.32" height="289.00" fill="#ffffff" fill-opacity="0.85"/>
<rect x="460.94" y="23.00" width="0.32" height="6.20" fill="#ffffff" fill-opacity="0.55"/>
<rect x="460.94" y="30.00" width="0.32" height="289.00" fill="#ffffff" fill-opacity="0.85"/>
<rect x="462.72" y="23.00" width="0.32" height="6.20" fill="#ffffff" fill-opacity="0.55"/>
<rect x="462.72" y="30.00" width="0.32" height="289.00" fill="#ffffff" fill-opacity="0.85"/>
<rect x="464.50" y="23.00" width="0.32" height="6.20" fill="#ffffff" fill-opacity="0.55"/>
<rect x="464.50" y="30.00" width="0.32" height="289.00" fill="#ffffff" fill-opacity="0.85"/>
<rect x="466.28" y="23.00" width="0.32" height="6.20" fill="#ffffff" fill-opacity="0.55"/>
<rect x="466.28" y="30.00" width="0.32" height="289.00" fill="#ffffff" fill-opacity="0.85"/>
<rect x="468.06" y="23.00" width="0.32" height="6.20" fill="#ffffff" fill-opacity="0.55"/>
<rect x="468.06" y="30.00" width="0.32" height="289.00" fill="#ffffff" fill-opacity="0.85"/>
<rect x="469.84" y="23.00" width="0.32" height="6.20" fill="#ffffff" fill-opacity="0.55"/>
<rect x="469.84" y="30.00" width="0.32" height="289.00" fill="#ffffff" fill-opacity="0.85"/>
<rect x="471.62" y="23.00" width="0.32" height="6.20" fill="#ffffff" fill-opacity="0.55"/>
<rect x="471.62" y="30.00" width="0.32" height="289.00" fill="#ffffff" fill-opacity="0.85"/>
<rect x="473.40" y="23.00" width="0.32" height="6.20" fill="#ffffff" fill-opacity="0.55"/>
<rect x="473.40" y="30.00" width="0.32" height="289.00" fill="#ffffff" fill-opacity="0.85"/>
<rect x="475.18" y="23.00" width="0.32" height="6.20" fill="#ffffff" fill-opacity="0.55"/>
<rect x="475.18" y="30.00" width="0.32" height="289.00" fill="#ffffff" fill-opacity="0.85"/>
<rect x="476.96" y="23.00" width="0.32" height="6.20" fill="#ffffff" fill-opacity="0.55"/>
<rect x="476.96" y="30.00" width="0.32" height="289.00" fill="#ffffff" fill-opacity="0.85"/>
<rect x="478.74" y="23.00" width="0.32" height="6.20" fill="#ffffff" fill-opacity="0.55"/>
<rect x="478.74" y="30.00" width="0.32" height="289.00" fill="#ffffff" fill-opacity="0.85"/>
<rect x="480.52" y="23.00" width="0.32" height="6.20" fill="#ffffff" fill-opacity="0.55"/>
<rect x="480.52" y="30.00" width="0.32" height="289.00" fill="#ffffff" fill-opacity="0.85"/>
<rect x="482.30" y="23.00" width="0.32" height="6.20" fill="#ffffff" fill-opacity="0.55"/>
<rect x="482.30" y="30.00" width="0.32" height="289.00" fill="#ffffff" fill-opacity="0.85"/>
<rect x="484.08" y="23.00" width="0.32" height="6.20" fill="#ffffff" fill-opacity="0.55"/>
<rect x="484.08" y="30.00" width="0.32" height="289.00" fill="#ffffff" fill-opacity="0.85"/>
<rect x="485.86" y="23.00" width="0.32" height="6.20" fill="#ffffff" fill-opacity="0.55"/>
<rect x="485.86" y="30.00" width="0.32" height="289.00" fill="#ffffff" fill-opacity="0.85"/>
<rect x="487.64" y="23.00" width="0.32" height="6.20" fill="#ffffff" fill-opacity="0.55"/>
<rect x="487.64" y="30.00" width="0.32" height="289.00" fill="#ffffff" fill-opacity="0.85"/>
<rect x="489.42" y="23.00" width="0.32" height="6.20" fill="#ffffff" fill-opacity="0.55"/>
<rect x="489.42" y="30.00" width="0.32" height="289.00" fill="#ffffff" fill-opacity="0.85"/>
<rect x="491.20" y="23.00" width="0.32" height="6.20" fill="#ffffff" fill-opacity="0.55"/>
<rect x="491.20" y="30.00" width="0.32" height="289.00" fill="#ffffff" fill-opacity="0.85"/>
<rect x="492.98" y="23.00" width="0.32" height="6.20" fill="#ffffff" fill-opacity="0.55"/>
<rect x="492.98" y="30.00" width="0.32" height="289.00" fill="#ffffff" fill-opacity="0.85"/>
<rect x="494.76" y="23.00" width="0.32" height="6.20" fill="#ffffff" fill-opacity="0.55"/>
<rect x="494.76" y="30.00" width="0.32" height="289.00" fill="#ffffff" fill-opacity="0.85"/>
<rect x="496.55" y="23.00" width="0.32" height="6.20" fill="#ffffff" fill-opacity="0.55"/>
<rect x="496.55" y="30.00" width="0.32" height="289.00" fill="#ffffff" fill-opacity="0.85"/>
<rect x="498.33" y="23.00" width="0.32" height="6.20" fill="#ffffff" fill-opacity="0.55"/>
<rect x="498.33" y="30.00" width="0.32" height="289.00" fill="#ffffff" fill-opacity="0.85"/>
<rect x="500.11" y="23.00" width="0.32" height="6.20" fill="#ffffff" fill-opacity="0.55"/>
<rect x="500.11" y="30.00" width="0.32" height="289.00" fill="#ffffff" fill-opacity="0.85"/>
<rect x="501.89" y="23.00" width="0.32" height="6.20" fill="#ffffff" fill-opacity="0.55"/>
<rect x="501.89" y="30.00" width="0.32" height="289.00" fill="#ffffff" fill-opacity="0.85"/>
<rect x="503.67" y="23.00" width="0.32" height="6.20" fill="#ffffff" fill-opacity="0.55"/>
<rect x="503.67" y="30.00" width="0.32" height="289.00" fill="#ffffff" fill-opacity="0.85"/>
<rect x="505.45" y="23.00" width="0.32" height="6.20" fill="#ffffff" fill-opacity="0.55"/>
<rect x="505.45" y="30.00" width="0.32" height="289.00" fill="#ffffff" fill-opacity="0.85"/>
<rect x="507.23" y="23.00" width="0.32" height="6.20" fill="#ffffff" fill-opacity="0.55"/>
<rect x="507.23" y="30.00" width="0.32" height="289.00" fill="#ffffff" fill-opacity="0.85"/>
<rect x="509.01" y="23.00" width="0.32" height="6.20" fill="#ffffff" fill-opacity="0.55"/>
<rect x="509.01" y="30.00" width="0.32" height="289.00" fill="#ffffff" fill-opacity="0.85"/>
<rect x="510.79" y="23.00" width="0.32" height="6.20" fill="#ffffff" fill-opacity="0.55"/>
<rect x="510.79" y="30.00" width="0.32" height="289.00" fill="#ffffff" fill-opacity="0.85"/>
<text x="7.32" y="331.30" font-size="6.9" font-weight="bold" fill="#111" stroke="#111" stroke-width="0.1" textLength="24.17" lengthAdjust="spacingAndGlyphs">CEBPA</text>
<rect x="7.00" y="336.20" width="5.10" height="5.00" fill="#ab1a3c"/>
<text x="15.51" y="341.30" font-size="7.0" font-style="italic" fill="#231f20" stroke="#231f20" stroke-width="0.15" textLength="23.66" lengthAdjust="spacingAndGlyphs">CEBPA</text>
<text x="39.6" y="337.80" font-size="5.2" fill="#231f20" stroke="#231f20" stroke-width="0.12">bi</text>
<rect x="7.00" y="347.20" width="5.10" height="5.00" fill="#2f568f"/>
<text x="15.51" y="352.30" font-size="7.0" font-style="italic" fill="#231f20" stroke="#231f20" stroke-width="0.15" textLength="23.66" lengthAdjust="spacingAndGlyphs">CEBPA</text>
<text x="39.6" y="348.80" font-size="5.2" fill="#231f20" stroke="#231f20" stroke-width="0.12">smbZIP</text>
<rect x="7.00" y="358.20" width="5.10" height="5.00" fill="#68b450"/>
<text x="15.51" y="363.30" font-size="7.0" font-style="italic" fill="#231f20" stroke="#231f20" stroke-width="0.15" textLength="23.66" lengthAdjust="spacingAndGlyphs">CEBPA</text>
<text x="39.6" y="359.80" font-size="5.2" fill="#231f20" stroke="#231f20" stroke-width="0.12">smTAD</text>
<text x="435.11" y="331.70" font-size="7.4" font-weight="bold" fill="#111" stroke="#111" stroke-width="0.1" textLength="36.76" lengthAdjust="spacingAndGlyphs">Karyotype</text>
<rect x="435.50" y="337.60" width="5.10" height="5.00" fill="#3aa946"/>
<text x="444.08" y="341.80" font-size="7.3" fill="#231f20" stroke="#231f20" stroke-width="0.1" textLength="31.55" lengthAdjust="spacingAndGlyphs">favorable</text>
<rect x="435.50" y="347.65" width="5.10" height="5.00" fill="#33a9df"/>
<text x="443.68" y="351.80" font-size="7.3" fill="#231f20" stroke="#231f20" stroke-width="0.1" textLength="43.90" lengthAdjust="spacingAndGlyphs">intermediate</text>
<rect x="435.50" y="357.70" width="5.10" height="5.00" fill="#f6b21c"/>
<text x="443.68" y="361.80" font-size="7.3" fill="#231f20" stroke="#231f20" stroke-width="0.1" textLength="72.34" lengthAdjust="spacingAndGlyphs">intermediate - del 9q</text>
<rect x="435.50" y="367.75" width="5.10" height="5.00" fill="#d8415d"/>
<text x="443.70" y="371.80" font-size="7.3" fill="#231f20" stroke="#231f20" stroke-width="0.1" textLength="40.56" lengthAdjust="spacingAndGlyphs">unfavorable</text>
<text x="7.33" y="398.00" font-size="11" font-weight="bold" fill="#000" stroke="#000" stroke-width="0.1" textLength="7.40" lengthAdjust="spacingAndGlyphs">B</text>
<line x1="41.9" y1="398.05" x2="513.4" y2="398.05" stroke="#222" stroke-width="1"/>
<line x1="513.4" y1="398.05" x2="513.4" y2="628.95" stroke="#222" stroke-width="1"/>
<line x1="41.9" y1="397.55" x2="41.9" y2="629.45" stroke="#222" stroke-width="1"/>
<line x1="41.4" y1="628.95" x2="513.9" y2="628.95" stroke="#222" stroke-width="1"/>
<line x1="39.3" y1="628.95" x2="41.9" y2="628.95" stroke="#222" stroke-width="0.9"/>
<text x="24.74" y="631.50" font-size="7.2" fill="#333" stroke="#333" stroke-width="0.1" textLength="11.34" lengthAdjust="spacingAndGlyphs">0%</text>
<line x1="39.3" y1="605.86" x2="41.9" y2="605.86" stroke="#222" stroke-width="0.9"/>
<text x="24.74" y="608.41" font-size="7.2" fill="#333" stroke="#333" stroke-width="0.1" textLength="11.34" lengthAdjust="spacingAndGlyphs">5%</text>
<line x1="39.3" y1="582.77" x2="41.9" y2="582.77" stroke="#222" stroke-width="0.9"/>
<text x="20.72" y="585.32" font-size="7.2" fill="#333" stroke="#333" stroke-width="0.1" textLength="15.36" lengthAdjust="spacingAndGlyphs">10%</text>
<line x1="39.3" y1="559.68" x2="41.9" y2="559.68" stroke="#222" stroke-width="0.9"/>
<text x="20.72" y="562.23" font-size="7.2" fill="#333" stroke="#333" stroke-width="0.1" textLength="15.36" lengthAdjust="spacingAndGlyphs">15%</text>
<line x1="39.3" y1="536.59" x2="41.9" y2="536.59" stroke="#222" stroke-width="0.9"/>
<text x="20.92" y="539.14" font-size="7.2" fill="#333" stroke="#333" stroke-width="0.1" textLength="15.15" lengthAdjust="spacingAndGlyphs">20%</text>
<line x1="39.3" y1="513.50" x2="41.9" y2="513.50" stroke="#222" stroke-width="0.9"/>
<text x="20.92" y="516.05" font-size="7.2" fill="#333" stroke="#333" stroke-width="0.1" textLength="15.15" lengthAdjust="spacingAndGlyphs">25%</text>
<line x1="39.3" y1="490.41" x2="41.9" y2="490.41" stroke="#222" stroke-width="0.9"/>
<text x="21.00" y="492.96" font-size="7.2" fill="#333" stroke="#333" stroke-width="0.1" textLength="15.08" lengthAdjust="spacingAndGlyphs">30%</text>
<line x1="39.3" y1="467.32" x2="41.9" y2="467.32" stroke="#222" stroke-width="0.9"/>
<text x="21.00" y="469.87" font-size="7.2" fill="#333" stroke="#333" stroke-width="0.1" textLength="15.08" lengthAdjust="spacingAndGlyphs">35%</text>
<line x1="39.3" y1="444.23" x2="41.9" y2="444.23" stroke="#222" stroke-width="0.9"/>
<text x="21.15" y="446.78" font-size="7.2" fill="#333" stroke="#333" stroke-width="0.1" textLength="14.92" lengthAdjust="spacingAndGlyphs">40%</text>
<line x1="39.3" y1="421.14" x2="41.9" y2="421.14" stroke="#222" stroke-width="0.9"/>
<text x="21.15" y="423.69" font-size="7.2" fill="#333" stroke="#333" stroke-width="0.1" textLength="14.92" lengthAdjust="spacingAndGlyphs">45%</text>
<line x1="39.3" y1="398.05" x2="41.9" y2="398.05" stroke="#222" stroke-width="0.9"/>
<text x="21.00" y="400.60" font-size="7.2" fill="#333" stroke="#333" stroke-width="0.1" textLength="15.08" lengthAdjust="spacingAndGlyphs">50%</text>
<line x1="41.90" y1="628.95" x2="41.90" y2="631.85" stroke="#222" stroke-width="0.9"/>
<line x1="75.58" y1="628.95" x2="75.58" y2="631.85" stroke="#222" stroke-width="0.9"/>
<line x1="109.26" y1="628.95" x2="109.26" y2="631.85" stroke="#222" stroke-width="0.9"/>
<line x1="142.94" y1="628.95" x2="142.94" y2="631.85" stroke="#222" stroke-width="0.9"/>
<line x1="176.61" y1="628.95" x2="176.61" y2="631.85" stroke="#222" stroke-width="0.9"/>
<line x1="210.29" y1="628.95" x2="210.29" y2="631.85" stroke="#222" stroke-width="0.9"/>
<line x1="243.97" y1="628.95" x2="243.97" y2="631.85" stroke="#222" stroke-width="0.9"/>
<line x1="277.65" y1="628.95" x2="277.65" y2="631.85" stroke="#222" stroke-width="0.9"/>
<line x1="311.33" y1="628.95" x2="311.33" y2="631.85" stroke="#222" stroke-width="0.9"/>
<line x1="345.01" y1="628.95" x2="345.01" y2="631.85" stroke="#222" stroke-width="0.9"/>
<line x1="378.69" y1="628.95" x2="378.69" y2="631.85" stroke="#222" stroke-width="0.9"/>
<line x1="412.36" y1="628.95" x2="412.36" y2="631.85" stroke="#222" stroke-width="0.9"/>
<line x1="446.04" y1="628.95" x2="446.04" y2="631.85" stroke="#222" stroke-width="0.9"/>
<line x1="479.72" y1="628.95" x2="479.72" y2="631.85" stroke="#222" stroke-width="0.9"/>
<line x1="513.40" y1="628.95" x2="513.40" y2="631.85" stroke="#222" stroke-width="0.9"/>
<rect x="49.35" y="611.40" width="5.40" height="17.55" fill="#a51a35"/>
<rect x="56.30" y="610.48" width="5.40" height="18.47" fill="#33568a"/>
<rect x="63.25" y="567.53" width="5.40" height="61.42" fill="#6ab250"/>
<text x="48.85" y="641.70" font-size="7.6" font-style="italic" fill="#333" stroke="#333" stroke-width="0.1" textLength="21.77" lengthAdjust="spacingAndGlyphs">ASXL1</text>
<rect x="83.03" y="583.23" width="5.40" height="45.72" fill="#a51a35"/>
<rect x="89.98" y="553.68" width="5.40" height="75.27" fill="#33568a"/>
<rect x="96.93" y="459.01" width="5.40" height="169.94" fill="#6ab250"/>
<path d="M96.33 454.10L96.33 456.52M95.28 454.70L97.37 455.91M97.37 454.70L95.28 455.91" stroke="#222" stroke-width="0.75" stroke-linecap="round"/>
<circle cx="96.33" cy="455.31" r="0.58" fill="#222"/>
<path d="M99.63 454.10L99.63 456.52M98.58 454.70L100.67 455.91M100.67 454.70L98.58 455.91" stroke="#222" stroke-width="0.75" stroke-linecap="round"/>
<circle cx="99.63" cy="455.31" r="0.58" fill="#222"/>
<path d="M102.93 454.10L102.93 456.52M101.88 454.70L103.97 455.91M103.97 454.70L101.88 455.91" stroke="#222" stroke-width="0.75" stroke-linecap="round"/>
<circle cx="102.93" cy="455.31" r="0.58" fill="#222"/>
<text x="76.66" y="641.70" font-size="7.6" font-style="italic" fill="#333" stroke="#333" stroke-width="0.1" textLength="32.24" lengthAdjust="spacingAndGlyphs">DNMT3A</text>
<rect x="116.71" y="572.61" width="5.40" height="56.34" fill="#a51a35"/>
<rect x="123.66" y="553.68" width="5.40" height="75.27" fill="#33568a"/>
<rect x="130.61" y="528.74" width="5.40" height="100.21" fill="#6ab250"/>
<text x="111.38" y="641.70" font-size="7.6" font-style="italic" fill="#333" stroke="#333" stroke-width="0.1" textLength="30.57" lengthAdjust="spacingAndGlyphs">FLT3 ITD</text>
<rect x="150.39" y="622.48" width="5.40" height="6.47" fill="#a51a35"/>
<rect x="164.29" y="575.38" width="5.40" height="53.57" fill="#6ab250"/>
<path d="M165.34 570.47L165.34 572.89M164.29 571.08L166.38 572.28M166.38 571.08L164.29 572.28" stroke="#222" stroke-width="0.75" stroke-linecap="round"/>
<circle cx="165.34" cy="571.68" r="0.58" fill="#222"/>
<path d="M168.64 570.47L168.64 572.89M167.59 571.08L169.68 572.28M169.68 571.08L167.59 572.28" stroke="#222" stroke-width="0.75" stroke-linecap="round"/>
<circle cx="168.64" cy="571.68" r="0.58" fill="#222"/>
<text x="143.68" y="641.70" font-size="7.6" font-style="italic" fill="#333" stroke="#333" stroke-width="0.1" textLength="32.85" lengthAdjust="spacingAndGlyphs">FLT3 TKD</text>
<rect x="184.06" y="466.86" width="5.40" height="162.09" fill="#a51a35"/>
<rect x="191.01" y="459.01" width="5.40" height="169.94" fill="#33568a"/>
<path d="M190.41 454.10L190.41 456.52M189.37 454.70L191.46 455.91M191.46 454.70L189.37 455.91" stroke="#222" stroke-width="0.75" stroke-linecap="round"/>
<circle cx="190.41" cy="455.31" r="0.58" fill="#222"/>
<path d="M193.71 454.10L193.71 456.52M192.67 454.70L194.76 455.91M194.76 454.70L192.67 455.91" stroke="#222" stroke-width="0.75" stroke-linecap="round"/>
<circle cx="193.71" cy="455.31" r="0.58" fill="#222"/>
<path d="M197.01 454.10L197.01 456.52M195.97 454.70L198.06 455.91M198.06 454.70L195.97 455.91" stroke="#222" stroke-width="0.75" stroke-linecap="round"/>
<circle cx="197.01" cy="455.31" r="0.58" fill="#222"/>
<rect x="197.96" y="598.47" width="5.40" height="30.48" fill="#6ab250"/>
<text x="181.51" y="641.70" font-size="7.6" font-style="italic" fill="#333" stroke="#333" stroke-width="0.1" textLength="24.41" lengthAdjust="spacingAndGlyphs">GATA2</text>
<rect x="217.74" y="622.48" width="5.40" height="6.47" fill="#a51a35"/>
<rect x="231.64" y="575.38" width="5.40" height="53.57" fill="#6ab250"/>
<path d="M232.69 570.47L232.69 572.89M231.65 571.08L233.74 572.28M233.74 571.08L231.65 572.28" stroke="#222" stroke-width="0.75" stroke-linecap="round"/>
<circle cx="232.69" cy="571.68" r="0.58" fill="#222"/>
<path d="M235.99 570.47L235.99 572.89M234.95 571.08L237.04 572.28M237.04 571.08L234.95 572.28" stroke="#222" stroke-width="0.75" stroke-linecap="round"/>
<circle cx="235.99" cy="571.68" r="0.58" fill="#222"/>
<text x="218.79" y="641.70" font-size="7.6" font-style="italic" fill="#333" stroke="#333" stroke-width="0.1" textLength="17.80" lengthAdjust="spacingAndGlyphs">IDH1</text>
<rect x="251.42" y="618.79" width="5.40" height="10.16" fill="#a51a35"/>
<rect x="258.37" y="600.78" width="5.40" height="28.17" fill="#33568a"/>
<rect x="265.32" y="567.53" width="5.40" height="61.42" fill="#6ab250"/>
<path d="M268.02 562.62L268.02 565.04M266.98 563.23L269.07 564.43M269.07 563.23L266.98 564.43" stroke="#222" stroke-width="0.75" stroke-linecap="round"/>
<circle cx="268.02" cy="563.83" r="0.58" fill="#222"/>
<text x="252.50" y="641.70" font-size="7.6" font-style="italic" fill="#333" stroke="#333" stroke-width="0.1">IDH2</text>
<rect x="285.10" y="615.10" width="5.40" height="13.85" fill="#a51a35"/>
<rect x="292.05" y="591.54" width="5.40" height="37.41" fill="#33568a"/>
<rect x="299.00" y="451.62" width="5.40" height="177.33" fill="#6ab250"/>
<path d="M298.40 446.71L298.40 449.13M297.35 447.32L299.45 448.52M299.45 447.32L297.35 448.52" stroke="#222" stroke-width="0.75" stroke-linecap="round"/>
<circle cx="298.40" cy="447.92" r="0.58" fill="#222"/>
<path d="M301.70 446.71L301.70 449.13M300.65 447.32L302.75 448.52M302.75 447.32L300.65 448.52" stroke="#222" stroke-width="0.75" stroke-linecap="round"/>
<circle cx="301.70" cy="447.92" r="0.58" fill="#222"/>
<path d="M305.00 446.71L305.00 449.13M303.95 447.32L306.05 448.52M306.05 447.32L303.95 448.52" stroke="#222" stroke-width="0.75" stroke-linecap="round"/>
<circle cx="305.00" cy="447.92" r="0.58" fill="#222"/>
<text x="284.17" y="641.70" font-size="7.6" font-style="italic" fill="#333" stroke="#333" stroke-width="0.1" textLength="21.73" lengthAdjust="spacingAndGlyphs">NPM1</text>
<rect x="318.78" y="565.68" width="5.40" height="63.27" fill="#a51a35"/>
<rect x="325.73" y="553.68" width="5.40" height="75.27" fill="#33568a"/>
<rect x="332.68" y="590.62" width="5.40" height="38.33" fill="#6ab250"/>
<text x="318.59" y="641.70" font-size="7.6" font-style="italic" fill="#333" stroke="#333" stroke-width="0.1" textLength="19.91" lengthAdjust="spacingAndGlyphs">NRAS</text>
<rect x="352.46" y="615.10" width="5.40" height="13.85" fill="#a51a35"/>
<rect x="359.41" y="619.71" width="5.40" height="9.24" fill="#33568a"/>
<rect x="366.36" y="575.38" width="5.40" height="53.57" fill="#6ab250"/>
<text x="349.78" y="641.70" font-size="7.6" font-style="italic" fill="#333" stroke="#333" stroke-width="0.1" textLength="25.05" lengthAdjust="spacingAndGlyphs">RUNX1</text>
<rect x="386.14" y="611.40" width="5.40" height="17.55" fill="#a51a35"/>
<rect x="393.09" y="591.54" width="5.40" height="37.41" fill="#33568a"/>
<rect x="400.04" y="559.68" width="5.40" height="69.27" fill="#6ab250"/>
<path d="M402.74 554.77L402.74 557.19M401.69 555.38L403.78 556.58M403.78 555.38L401.69 556.58" stroke="#222" stroke-width="0.75" stroke-linecap="round"/>
<circle cx="402.74" cy="555.98" r="0.58" fill="#222"/>
<text x="384.60" y="641.70" font-size="7.6" font-style="italic" fill="#333" stroke="#333" stroke-width="0.1" textLength="21.52" lengthAdjust="spacingAndGlyphs">SRSF2</text>
<rect x="419.81" y="597.55" width="5.40" height="31.40" fill="#a51a35"/>
<rect x="426.76" y="600.78" width="5.40" height="28.17" fill="#33568a"/>
<rect x="433.71" y="582.77" width="5.40" height="46.18" fill="#6ab250"/>
<text x="417.48" y="641.70" font-size="7.6" font-style="italic" fill="#333" stroke="#333" stroke-width="0.1" textLength="23.53" lengthAdjust="spacingAndGlyphs">STAG2</text>
<rect x="453.49" y="515.81" width="5.40" height="113.14" fill="#a51a35"/>
<rect x="460.44" y="506.57" width="5.40" height="122.38" fill="#33568a"/>
<rect x="467.39" y="475.17" width="5.40" height="153.78" fill="#6ab250"/>
<text x="454.17" y="641.70" font-size="7.6" font-style="italic" fill="#333" stroke="#333" stroke-width="0.1" textLength="17.24" lengthAdjust="spacingAndGlyphs">TET2</text>
<rect x="487.17" y="543.98" width="5.40" height="84.97" fill="#a51a35"/>
<path d="M489.87 539.07L489.87 541.49M488.83 539.68L490.92 540.88M490.92 539.68L488.83 540.88" stroke="#222" stroke-width="0.75" stroke-linecap="round"/>
<circle cx="489.87" cy="540.28" r="0.58" fill="#222"/>
<rect x="494.12" y="581.85" width="5.40" height="47.10" fill="#33568a"/>
<rect x="501.07" y="621.10" width="5.40" height="7.85" fill="#6ab250"/>
<text x="488.23" y="641.70" font-size="7.6" font-style="italic" fill="#333" stroke="#333" stroke-width="0.1" textLength="16.54" lengthAdjust="spacingAndGlyphs">WT1</text>
<rect x="405.3" y="402.0" width="90.80" height="51.70" fill="none" stroke="#222" stroke-width="1.0"/>
<line x1="402.90000000000003" y1="402.00" x2="405.3" y2="402.00" stroke="#222" stroke-width="0.9"/>
<line x1="402.90000000000003" y1="419.23" x2="405.3" y2="419.23" stroke="#222" stroke-width="0.9"/>
<line x1="402.90000000000003" y1="436.47" x2="405.3" y2="436.47" stroke="#222" stroke-width="0.9"/>
<line x1="402.90000000000003" y1="453.70" x2="405.3" y2="453.70" stroke="#222" stroke-width="0.9"/>
<line x1="405.30" y1="453.7" x2="405.30" y2="456.09999999999997" stroke="#222" stroke-width="0.9"/>
<text x="399.58" y="466.90" font-size="7.2" fill="#333" stroke="#333" stroke-width="0.1" textLength="11.39" lengthAdjust="spacingAndGlyphs">0%</text>
<line x1="433.40" y1="453.7" x2="433.40" y2="456.09999999999997" stroke="#222" stroke-width="0.9"/>
<text x="427.30" y="466.90" font-size="7.2" fill="#333" stroke="#333" stroke-width="0.1" textLength="12.12" lengthAdjust="spacingAndGlyphs">20%</text>
<line x1="461.50" y1="453.7" x2="461.50" y2="456.09999999999997" stroke="#222" stroke-width="0.9"/>
<text x="455.58" y="466.90" font-size="7.2" fill="#333" stroke="#333" stroke-width="0.1" textLength="11.94" lengthAdjust="spacingAndGlyphs">40%</text>
<line x1="489.60" y1="453.7" x2="489.60" y2="456.09999999999997" stroke="#222" stroke-width="0.9"/>
<text x="483.50" y="466.90" font-size="7.2" fill="#333" stroke="#333" stroke-width="0.1" textLength="12.12" lengthAdjust="spacingAndGlyphs">60%</text>
<rect x="405.30" y="404.70" width="21.36" height="3.00" fill="#a51a35"/>
<rect x="405.30" y="409.00" width="28.52" height="3.00" fill="#33568a"/>
<rect x="405.30" y="413.30" width="16.16" height="3.00" fill="#6ab250"/>
<text x="352.61" y="412.00" font-size="7.2" fill="#333" stroke="#333" stroke-width="0.1" textLength="46.69" lengthAdjust="spacingAndGlyphs">RAS signaling</text>
<rect x="405.30" y="421.93" width="5.34" height="3.00" fill="#a51a35"/>
<rect x="405.30" y="426.23" width="13.91" height="3.00" fill="#33568a"/>
<rect x="405.30" y="430.53" width="34.84" height="3.00" fill="#6ab250"/>
<path d="M445.30 430.83L445.30 433.24M444.25 431.43L446.35 432.64M446.35 431.43L444.25 432.64" stroke="#222" stroke-width="0.75" stroke-linecap="round"/>
<circle cx="445.30" cy="432.03" r="0.58" fill="#222"/>
<path d="M448.60 430.83L448.60 433.24M447.55 431.43L449.65 432.64M449.65 431.43L447.55 432.64" stroke="#222" stroke-width="0.75" stroke-linecap="round"/>
<circle cx="448.60" cy="432.03" r="0.58" fill="#222"/>
<path d="M451.90 430.83L451.90 433.24M450.85 431.43L452.95 432.64M452.95 431.43L450.85 432.64" stroke="#222" stroke-width="0.75" stroke-linecap="round"/>
<circle cx="451.90" cy="432.03" r="0.58" fill="#222"/>
<text x="355.86" y="429.50" font-size="7.2" fill="#333" stroke="#333" stroke-width="0.1" textLength="43.28" lengthAdjust="spacingAndGlyphs">Spliceosome</text>
<rect x="405.30" y="439.17" width="43.56" height="3.00" fill="#a51a35"/>
<rect x="405.30" y="443.47" width="56.90" height="3.00" fill="#33568a"/>
<rect x="405.30" y="447.77" width="90.90" height="3.00" fill="#6ab250"/>
<path d="M501.80 448.06L501.80 450.47M500.75 448.66L502.85 449.87M502.85 448.66L500.75 449.87" stroke="#222" stroke-width="0.75" stroke-linecap="round"/>
<circle cx="501.80" cy="449.27" r="0.58" fill="#222"/>
<path d="M505.10 448.06L505.10 450.47M504.05 448.66L506.15 449.87M506.15 448.66L504.05 449.87" stroke="#222" stroke-width="0.75" stroke-linecap="round"/>
<circle cx="505.10" cy="449.27" r="0.58" fill="#222"/>
<path d="M508.40 448.06L508.40 450.47M507.35 448.66L509.45 449.87M509.45 448.66L507.35 449.87" stroke="#222" stroke-width="0.75" stroke-linecap="round"/>
<circle cx="508.40" cy="449.27" r="0.58" fill="#222"/>
<text x="340.16" y="446.60" font-size="7.2" fill="#333" stroke="#333" stroke-width="0.1" textLength="59.18" lengthAdjust="spacingAndGlyphs">DNA methylation</text>
<rect x="27.00" y="655.40" width="7.00" height="6.80" fill="#a51a35"/>
<text x="37.29" y="661.50" font-size="7.2" font-style="italic" fill="#231f20" stroke="#231f20" stroke-width="0.15" textLength="24.79" lengthAdjust="spacingAndGlyphs">CEBPA</text>
<text x="62.0" y="657.40" font-size="5.3" fill="#231f20" stroke="#231f20" stroke-width="0.12">bi</text>
<rect x="27.00" y="666.70" width="7.00" height="6.80" fill="#33568a"/>
<text x="37.29" y="672.80" font-size="7.2" font-style="italic" fill="#231f20" stroke="#231f20" stroke-width="0.15" textLength="24.79" lengthAdjust="spacingAndGlyphs">CEBPA</text>
<text x="62.0" y="668.70" font-size="5.3" fill="#231f20" stroke="#231f20" stroke-width="0.12">smbZIP</text>
<rect x="27.00" y="678.00" width="7.00" height="6.80" fill="#6ab250"/>
<text x="37.29" y="684.10" font-size="7.2" font-style="italic" fill="#231f20" stroke="#231f20" stroke-width="0.15" textLength="24.79" lengthAdjust="spacingAndGlyphs">CEBPA</text>
<text x="62.0" y="680.00" font-size="5.3" fill="#231f20" stroke="#231f20" stroke-width="0.12">smTAD</text>
<path d="M430.60 658.41L430.60 660.59M429.65 658.95L431.55 660.05M431.55 658.95L429.65 660.05" stroke="#222" stroke-width="0.75" stroke-linecap="round"/>
<circle cx="430.60" cy="659.50" r="0.52" fill="#222"/>
<text x="435" y="661.10" font-size="7.65" fill="#231f20" stroke="#231f20" stroke-width="0.03">adj. <tspan font-style="italic">p</tspan>-value ≤0.05</text>
<path d="M427.24 669.46L427.24 671.64M426.29 670.00L428.19 671.10M428.19 670.00L426.29 671.10" stroke="#222" stroke-width="0.75" stroke-linecap="round"/>
<circle cx="427.24" cy="670.55" r="0.52" fill="#222"/>
<path d="M430.60 669.46L430.60 671.64M429.65 670.00L431.55 671.10M431.55 670.00L429.65 671.10" stroke="#222" stroke-width="0.75" stroke-linecap="round"/>
<circle cx="430.60" cy="670.55" r="0.52" fill="#222"/>
<text x="435" y="672.15" font-size="7.65" fill="#231f20" stroke="#231f20" stroke-width="0.03">adj. <tspan font-style="italic">p</tspan>-value ≤0.01</text>
<path d="M423.88 680.51L423.88 682.69M422.93 681.05L424.83 682.15M424.83 681.05L422.93 682.15" stroke="#222" stroke-width="0.75" stroke-linecap="round"/>
<circle cx="423.88" cy="681.60" r="0.52" fill="#222"/>
<path d="M427.24 680.51L427.24 682.69M426.29 681.05L428.19 682.15M428.19 681.05L426.29 682.15" stroke="#222" stroke-width="0.75" stroke-linecap="round"/>
<circle cx="427.24" cy="681.60" r="0.52" fill="#222"/>
<path d="M430.60 680.51L430.60 682.69M429.65 681.05L431.55 682.15M431.55 681.05L429.65 682.15" stroke="#222" stroke-width="0.75" stroke-linecap="round"/>
<circle cx="430.60" cy="681.60" r="0.52" fill="#222"/>
<text x="435" y="683.20" font-size="7.65" fill="#231f20" stroke="#231f20" stroke-width="0.03">adj. <tspan font-style="italic">p</tspan>-value ≤0.001</text>
<rect x="0.00" y="0.00" width="520.00" height="1.00" fill="#000"/>
<rect x="0.00" y="0.00" width="1.00" height="696.00" fill="#000"/>
<rect x="519.00" y="0.00" width="1.00" height="696.00" fill="#000"/>
<rect x="0.00" y="694.50" width="520.00" height="1.50" fill="#000"/>
</svg>
</body></html>
